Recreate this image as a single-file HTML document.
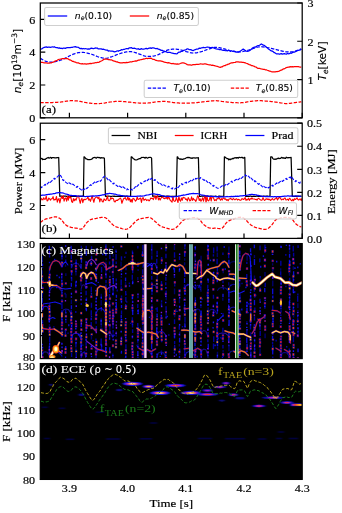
<!DOCTYPE html>
<html><head><meta charset="utf-8"><title>figure</title>
<style>html,body{margin:0;padding:0;background:#fff}svg{display:block}</style></head>
<body><svg width="342" height="513" viewBox="0 0 342 513">
<defs>
<filter id="bl" x="-5%" y="-5%" width="110%" height="110%"><feGaussianBlur stdDeviation="0.75"/></filter>
<filter id="bl2" x="-20%" y="-50%" width="140%" height="200%"><feGaussianBlur stdDeviation="1.0 0.45"/></filter>
<filter id="bl3" x="-5%" y="-5%" width="110%" height="110%"><feGaussianBlur stdDeviation="0.3"/></filter>
<clipPath id="cpa"><rect x="40.3" y="3.0" width="261.9" height="114.8"/></clipPath>
<clipPath id="cpb"><rect x="40.3" y="123.2" width="261.9" height="115.2"/></clipPath>
<clipPath id="cpc"><rect x="40.3" y="243.6" width="261.9" height="115"/></clipPath>
<clipPath id="cpd"><rect x="40.3" y="363.6" width="261.9" height="115.8"/></clipPath>
</defs>
<rect width="342" height="513" fill="#fff"/>
<g clip-path="url(#cpa)" fill="none" stroke-width="1.25" stroke-linejoin="round">
<path d="M40.3 102.6 L41.3 102.6 L42.3 102.61 L43.3 102.62 L44.3 102.62 L45.3 102.63 L46.3 102.63 L47.3 102.63 L48.3 102.62 L49.3 102.61 L50.3 102.58 L51.3 102.56 L52.3 102.52 L53.3 102.49 L54.3 102.45 L55.3 102.4 L56.3 102.35 L57.3 102.29 L58.3 102.22 L59.3 102.15 L60.3 102.06 L61.3 101.97 L62.3 101.85 L63.3 101.7 L64.3 101.54 L65.3 101.37 L66.3 101.2 L67.3 101.04 L68.3 100.9 L69.3 100.79 L70.3 100.72 L71.3 100.69 L72.3 100.68 L73.3 100.7 L74.3 100.74 L75.3 100.8 L76.3 100.87 L77.3 100.97 L78.3 101.11 L79.3 101.29 L80.3 101.48 L81.3 101.69 L82.3 101.9 L83.3 102.12 L84.3 102.31 L85.3 102.49 L86.3 102.64 L87.3 102.78 L88.3 102.92 L89.3 103.06 L90.3 103.18 L91.3 103.29 L92.3 103.39 L93.3 103.48 L94.3 103.54 L95.3 103.58 L96.3 103.6 L97.3 103.6 L98.3 103.59 L99.3 103.56 L100.3 103.5 L101.3 103.43 L102.3 103.35 L103.3 103.24 L104.3 103.1 L105.3 102.93 L106.3 102.73 L107.3 102.52 L108.3 102.32 L109.3 102.15 L110.3 102 L111.3 101.87 L112.3 101.74 L113.3 101.63 L114.3 101.54 L115.3 101.45 L116.3 101.39 L117.3 101.34 L118.3 101.31 L119.3 101.3 L120.3 101.32 L121.3 101.36 L122.3 101.43 L123.3 101.52 L124.3 101.62 L125.3 101.72 L126.3 101.83 L127.3 101.94 L128.3 102.04 L129.3 102.14 L130.3 102.23 L131.3 102.34 L132.3 102.44 L133.3 102.55 L134.3 102.66 L135.3 102.76 L136.3 102.85 L137.3 102.92 L138.3 102.99 L139.3 103.03 L140.3 103.07 L141.3 103.1 L142.3 103.12 L143.3 103.13 L144.3 103.14 L145.3 103.12 L146.3 103.1 L147.3 103.05 L148.3 102.99 L149.3 102.9 L150.3 102.78 L151.3 102.64 L152.3 102.48 L153.3 102.32 L154.3 102.15 L155.3 102 L156.3 101.86 L157.3 101.75 L158.3 101.67 L159.3 101.6 L160.3 101.54 L161.3 101.49 L162.3 101.46 L163.3 101.45 L164.3 101.45 L165.3 101.49 L166.3 101.55 L167.3 101.66 L168.3 101.79 L169.3 101.95 L170.3 102.12 L171.3 102.29 L172.3 102.44 L173.3 102.57 L174.3 102.67 L175.3 102.76 L176.3 102.85 L177.3 102.92 L178.3 102.99 L179.3 103.04 L180.3 103.09 L181.3 103.13 L182.3 103.16 L183.3 103.18 L184.3 103.2 L185.3 103.2 L186.3 103.19 L187.3 103.17 L188.3 103.14 L189.3 103.1 L190.3 103.05 L191.3 103 L192.3 102.93 L193.3 102.86 L194.3 102.79 L195.3 102.71 L196.3 102.63 L197.3 102.55 L198.3 102.45 L199.3 102.35 L200.3 102.23 L201.3 102.11 L202.3 101.99 L203.3 101.86 L204.3 101.74 L205.3 101.62 L206.3 101.5 L207.3 101.4 L208.3 101.3 L209.3 101.2 L210.3 101.09 L211.3 100.98 L212.3 100.87 L213.3 100.79 L214.3 100.72 L215.3 100.69 L216.3 100.71 L217.3 100.78 L218.3 100.88 L219.3 101.02 L220.3 101.18 L221.3 101.34 L222.3 101.5 L223.3 101.64 L224.3 101.76 L225.3 101.87 L226.3 101.98 L227.3 102.09 L228.3 102.19 L229.3 102.29 L230.3 102.38 L231.3 102.46 L232.3 102.53 L233.3 102.59 L234.3 102.63 L235.3 102.68 L236.3 102.72 L237.3 102.75 L238.3 102.77 L239.3 102.77 L240.3 102.76 L241.3 102.73 L242.3 102.68 L243.3 102.6 L244.3 102.48 L245.3 102.33 L246.3 102.14 L247.3 101.95 L248.3 101.75 L249.3 101.56 L250.3 101.4 L251.3 101.26 L252.3 101.15 L253.3 101.04 L254.3 100.94 L255.3 100.86 L256.3 100.79 L257.3 100.74 L258.3 100.71 L259.3 100.7 L260.3 100.71 L261.3 100.74 L262.3 100.79 L263.3 100.86 L264.3 100.93 L265.3 101.02 L266.3 101.11 L267.3 101.2 L268.3 101.29 L269.3 101.38 L270.3 101.48 L271.3 101.58 L272.3 101.69 L273.3 101.8 L274.3 101.92 L275.3 102.04 L276.3 102.17 L277.3 102.3 L278.3 102.44 L279.3 102.61 L280.3 102.79 L281.3 102.99 L282.3 103.18 L283.3 103.35 L284.3 103.49 L285.3 103.58 L286.3 103.61 L287.3 103.6 L288.3 103.54 L289.3 103.45 L290.3 103.32 L291.3 103.18 L292.3 103.03 L293.3 102.88 L294.3 102.73 L295.3 102.6 L296.3 102.47 L297.3 102.34 L298.3 102.2 L299.3 102.05 L300.3 101.91 L301.3 101.77" stroke="#f00" stroke-dasharray="3.4 1.5"/>
<path d="M40.3 58.3 L41.3 58.86 L42.3 59.46 L43.3 60.05 L44.3 60.59 L45.3 61.05 L46.3 61.4 L47.3 61.66 L48.3 61.86 L49.3 61.99 L50.3 62.07 L51.3 62.1 L52.3 62.08 L53.3 61.99 L54.3 61.85 L55.3 61.66 L56.3 61.44 L57.3 61.2 L58.3 60.93 L59.3 60.61 L60.3 60.26 L61.3 59.88 L62.3 59.47 L63.3 59.04 L64.3 58.61 L65.3 58.16 L66.3 57.68 L67.3 57.15 L68.3 56.6 L69.3 56.05 L70.3 55.51 L71.3 55.01 L72.3 54.56 L73.3 54.17 L74.3 53.81 L75.3 53.47 L76.3 53.16 L77.3 52.9 L78.3 52.68 L79.3 52.52 L80.3 52.43 L81.3 52.38 L82.3 52.38 L83.3 52.42 L84.3 52.5 L85.3 52.62 L86.3 52.8 L87.3 53.03 L88.3 53.28 L89.3 53.57 L90.3 53.87 L91.3 54.18 L92.3 54.5 L93.3 54.85 L94.3 55.24 L95.3 55.65 L96.3 56.07 L97.3 56.47 L98.3 56.84 L99.3 57.16 L100.3 57.43 L101.3 57.69 L102.3 57.93 L103.3 58.13 L104.3 58.26 L105.3 58.31 L106.3 58.25 L107.3 58.08 L108.3 57.81 L109.3 57.49 L110.3 57.14 L111.3 56.8 L112.3 56.47 L113.3 56.1 L114.3 55.71 L115.3 55.3 L116.3 54.9 L117.3 54.5 L118.3 54.13 L119.3 53.8 L120.3 53.49 L121.3 53.18 L122.3 52.89 L123.3 52.61 L124.3 52.37 L125.3 52.16 L126.3 51.99 L127.3 51.87 L128.3 51.78 L129.3 51.72 L130.3 51.7 L131.3 51.73 L132.3 51.83 L133.3 52 L134.3 52.26 L135.3 52.59 L136.3 52.96 L137.3 53.34 L138.3 53.7 L139.3 54.04 L140.3 54.41 L141.3 54.79 L142.3 55.17 L143.3 55.53 L144.3 55.85 L145.3 56.12 L146.3 56.3 L147.3 56.41 L148.3 56.48 L149.3 56.49 L150.3 56.46 L151.3 56.39 L152.3 56.27 L153.3 56.11 L154.3 55.91 L155.3 55.66 L156.3 55.37 L157.3 55.03 L158.3 54.64 L159.3 54.17 L160.3 53.65 L161.3 53.12 L162.3 52.6 L163.3 52.1 L164.3 51.58 L165.3 51.07 L166.3 50.59 L167.3 50.17 L168.3 49.85 L169.3 49.6 L170.3 49.42 L171.3 49.29 L172.3 49.21 L173.3 49.18 L174.3 49.17 L175.3 49.19 L176.3 49.24 L177.3 49.32 L178.3 49.44 L179.3 49.6 L180.3 49.78 L181.3 50 L182.3 50.27 L183.3 50.6 L184.3 50.97 L185.3 51.33 L186.3 51.67 L187.3 51.95 L188.3 52.21 L189.3 52.45 L190.3 52.66 L191.3 52.84 L192.3 52.96 L193.3 53.01 L194.3 53 L195.3 52.93 L196.3 52.8 L197.3 52.64 L198.3 52.44 L199.3 52.21 L200.3 51.97 L201.3 51.71 L202.3 51.4 L203.3 51.04 L204.3 50.66 L205.3 50.27 L206.3 49.88 L207.3 49.52 L208.3 49.2 L209.3 48.89 L210.3 48.57 L211.3 48.25 L212.3 47.95 L213.3 47.69 L214.3 47.48 L215.3 47.34 L216.3 47.3 L217.3 47.34 L218.3 47.47 L219.3 47.65 L220.3 47.88 L221.3 48.14 L222.3 48.41 L223.3 48.68 L224.3 48.93 L225.3 49.21 L226.3 49.52 L227.3 49.85 L228.3 50.17 L229.3 50.49 L230.3 50.77 L231.3 51.02 L232.3 51.22 L233.3 51.4 L234.3 51.56 L235.3 51.69 L236.3 51.8 L237.3 51.88 L238.3 51.91 L239.3 51.9 L240.3 51.85 L241.3 51.75 L242.3 51.6 L243.3 51.43 L244.3 51.22 L245.3 50.99 L246.3 50.74 L247.3 50.47 L248.3 50.17 L249.3 49.84 L250.3 49.48 L251.3 49.12 L252.3 48.79 L253.3 48.48 L254.3 48.16 L255.3 47.84 L256.3 47.52 L257.3 47.24 L258.3 47 L259.3 46.82 L260.3 46.71 L261.3 46.71 L262.3 46.79 L263.3 46.93 L264.3 47.1 L265.3 47.27 L266.3 47.43 L267.3 47.6 L268.3 47.78 L269.3 47.97 L270.3 48.18 L271.3 48.38 L272.3 48.6 L273.3 48.83 L274.3 49.07 L275.3 49.32 L276.3 49.58 L277.3 49.84 L278.3 50.1 L279.3 50.34 L280.3 50.57 L281.3 50.8 L282.3 51.05 L283.3 51.28 L284.3 51.5 L285.3 51.69 L286.3 51.83 L287.3 51.92 L288.3 51.98 L289.3 52 L290.3 51.98 L291.3 51.91 L292.3 51.78 L293.3 51.6 L294.3 51.37 L295.3 51.1 L296.3 50.79 L297.3 50.47 L298.3 50.09 L299.3 49.68 L300.3 49.24 L301.3 48.81" stroke="#00f" stroke-dasharray="3.4 1.5"/>
<path d="M40.3 62.06 L41.3 62.41 L42.3 62.28 L43.3 62.65 L44.3 62.76 L45.3 62.86 L46.3 62.98 L47.3 63.08 L48.3 63.09 L49.3 63.09 L50.3 62.9 L51.3 62.84 L52.3 62.31 L53.3 62.25 L54.3 61.36 L55.3 61.19 L56.3 60.59 L57.3 60.23 L58.3 59.62 L59.3 59.25 L60.3 59.19 L61.3 59.01 L62.3 58.52 L63.3 58.61 L64.3 58.68 L65.3 58.74 L66.3 58.46 L67.3 58.64 L68.3 59.03 L69.3 59.81 L70.3 59.9 L71.3 60.55 L72.3 61.27 L73.3 61.44 L74.3 61.89 L75.3 62.06 L76.3 62.57 L77.3 62.95 L78.3 62.81 L79.3 63.4 L80.3 63.72 L81.3 63.76 L82.3 63.66 L83.3 64.02 L84.3 63.75 L85.3 63.96 L86.3 64.2 L87.3 63.87 L88.3 63.81 L89.3 63.64 L90.3 63.46 L91.3 63.64 L92.3 63.25 L93.3 63.11 L94.3 63.04 L95.3 62.66 L96.3 62.75 L97.3 62.34 L98.3 62.33 L99.3 62.08 L100.3 61.38 L101.3 60.98 L102.3 60.49 L103.3 59.75 L104.3 59.12 L105.3 59.14 L106.3 59.16 L107.3 59.18 L108.3 59.56 L109.3 59.58 L110.3 59.96 L111.3 59.88 L112.3 60.24 L113.3 60.95 L114.3 61.11 L115.3 61.31 L116.3 61.95 L117.3 61.92 L118.3 62.36 L119.3 62.55 L120.3 62.79 L121.3 62.77 L122.3 62.88 L123.3 62.66 L124.3 62.56 L125.3 62.77 L126.3 62.41 L127.3 62.54 L128.3 62.26 L129.3 62.11 L130.3 61.73 L131.3 62 L132.3 61.6 L133.3 61.49 L134.3 61.23 L135.3 60.96 L136.3 61.09 L137.3 60.7 L138.3 60.16 L139.3 60.18 L140.3 59.74 L141.3 59.54 L142.3 59.45 L143.3 58.94 L144.3 59.02 L145.3 58.71 L146.3 58.24 L147.3 58.56 L148.3 58.35 L149.3 58.48 L150.3 58.15 L151.3 58.34 L152.3 59.05 L153.3 59.31 L154.3 59.4 L155.3 60.11 L156.3 60.41 L157.3 60.75 L158.3 60.87 L159.3 60.79 L160.3 60.95 L161.3 61.16 L162.3 61.37 L163.3 61.7 L164.3 62.22 L165.3 62.28 L166.3 62.5 L167.3 62.84 L168.3 62.67 L169.3 62.92 L170.3 63.24 L171.3 63.61 L172.3 63.57 L173.3 63.46 L174.3 63.99 L175.3 63.81 L176.3 64.16 L177.3 63.95 L178.3 64.09 L179.3 63.83 L180.3 63.49 L181.3 63.05 L182.3 62.88 L183.3 62.92 L184.3 63.09 L185.3 63.48 L186.3 63.97 L187.3 64.63 L188.3 64.89 L189.3 64.79 L190.3 64.86 L191.3 65.25 L192.3 64.94 L193.3 64.63 L194.3 64.53 L195.3 64.67 L196.3 64.28 L197.3 64.35 L198.3 64.42 L199.3 64.25 L200.3 63.88 L201.3 63.99 L202.3 64.07 L203.3 64.23 L204.3 63.97 L205.3 63.99 L206.3 64.13 L207.3 64.46 L208.3 64.65 L209.3 64.77 L210.3 64.78 L211.3 65.26 L212.3 65.22 L213.3 65.3 L214.3 65.6 L215.3 65.93 L216.3 66.18 L217.3 66.38 L218.3 66.72 L219.3 67.17 L220.3 67.34 L221.3 66.89 L222.3 66.76 L223.3 65.98 L224.3 65.69 L225.3 65.54 L226.3 64.79 L227.3 64.57 L228.3 64.08 L229.3 63.89 L230.3 63.22 L231.3 62.82 L232.3 62.87 L233.3 62.64 L234.3 62.5 L235.3 62.35 L236.3 61.78 L237.3 61.82 L238.3 61.98 L239.3 62.16 L240.3 62.22 L241.3 62.12 L242.3 62.44 L243.3 62.48 L244.3 62.59 L245.3 62.9 L246.3 63.26 L247.3 63.56 L248.3 64.13 L249.3 64.56 L250.3 64.77 L251.3 65.52 L252.3 65.58 L253.3 65.98 L254.3 66.4 L255.3 67 L256.3 67.17 L257.3 68.03 L258.3 68.33 L259.3 68.26 L260.3 68.63 L261.3 68.95 L262.3 69.01 L263.3 69.47 L264.3 69.35 L265.3 69.78 L266.3 69.79 L267.3 70.23 L268.3 70.59 L269.3 71.04 L270.3 71.23 L271.3 71.61 L272.3 71.95 L273.3 71.79 L274.3 71.92 L275.3 71.93 L276.3 71.53 L277.3 71.62 L278.3 71.28 L279.3 71.09 L280.3 70.39 L281.3 70.22 L282.3 69.62 L283.3 68.96 L284.3 68.78 L285.3 68.22 L286.3 67.52 L287.3 67.35 L288.3 67.22 L289.3 67.15 L290.3 66.56 L291.3 66.96 L292.3 66.6 L293.3 66.84 L294.3 66.62 L295.3 66.74 L296.3 66.65 L297.3 66.74 L298.3 66.64 L299.3 66.87 L300.3 67.03 L301.3 67.15" stroke="#f00"/>
<path d="M40.3 49.94 L41.3 48.84 L42.3 48.56 L43.3 47.8 L44.3 47.34 L45.3 47.04 L46.3 46.88 L47.3 47.3 L48.3 47.09 L49.3 47.1 L50.3 47.37 L51.3 47.21 L52.3 46.77 L53.3 47.06 L54.3 46.75 L55.3 47.35 L56.3 47.58 L57.3 47.54 L58.3 48.19 L59.3 47.82 L60.3 48.47 L61.3 48.22 L62.3 48.55 L63.3 48.17 L64.3 48.06 L65.3 48.32 L66.3 47.84 L67.3 47.62 L68.3 47.63 L69.3 47.66 L70.3 47.66 L71.3 47.28 L72.3 47.43 L73.3 47 L74.3 46.78 L75.3 46.58 L76.3 47.09 L77.3 47.24 L78.3 47.28 L79.3 48.13 L80.3 48.6 L81.3 48.37 L82.3 48.87 L83.3 48.48 L84.3 48.76 L85.3 48.69 L86.3 48.75 L87.3 49.06 L88.3 48.81 L89.3 49.12 L90.3 48.66 L91.3 48.16 L92.3 48.34 L93.3 48.73 L94.3 48.31 L95.3 47.97 L96.3 48.17 L97.3 48.03 L98.3 48.91 L99.3 48.97 L100.3 48.94 L101.3 48.95 L102.3 49.33 L103.3 49.06 L104.3 49.46 L105.3 49.95 L106.3 50.06 L107.3 50.01 L108.3 51.05 L109.3 50.76 L110.3 51.01 L111.3 51.03 L112.3 51.13 L113.3 51.35 L114.3 51.81 L115.3 51.72 L116.3 51.3 L117.3 50.8 L118.3 51.26 L119.3 50.51 L120.3 50.49 L121.3 49.68 L122.3 49.97 L123.3 49.48 L124.3 49.33 L125.3 49 L126.3 48.68 L127.3 48.61 L128.3 48.76 L129.3 47.81 L130.3 47.87 L131.3 47.58 L132.3 48.26 L133.3 48.31 L134.3 48.08 L135.3 48.46 L136.3 48.85 L137.3 49.03 L138.3 48.69 L139.3 49.36 L140.3 49.26 L141.3 48.64 L142.3 49.24 L143.3 49.06 L144.3 49.02 L145.3 48.71 L146.3 48.35 L147.3 48.89 L148.3 48.46 L149.3 48.1 L150.3 47.89 L151.3 48.36 L152.3 47.86 L153.3 47.97 L154.3 48.14 L155.3 48.52 L156.3 48.58 L157.3 48.47 L158.3 49.17 L159.3 49.42 L160.3 49.83 L161.3 50.38 L162.3 50.43 L163.3 50.84 L164.3 51.2 L165.3 51.71 L166.3 51.74 L167.3 52.5 L168.3 52.36 L169.3 52.41 L170.3 52.49 L171.3 52.87 L172.3 53.03 L173.3 53.29 L174.3 53.59 L175.3 53.66 L176.3 53.78 L177.3 53.62 L178.3 52.39 L179.3 52.12 L180.3 52.04 L181.3 51.2 L182.3 51.4 L183.3 50.33 L184.3 50.31 L185.3 49.79 L186.3 49.6 L187.3 48.77 L188.3 49.04 L189.3 49.74 L190.3 49.53 L191.3 49.82 L192.3 50.33 L193.3 50.56 L194.3 49.91 L195.3 49.63 L196.3 49.22 L197.3 49.1 L198.3 48.92 L199.3 48.1 L200.3 48.41 L201.3 47.8 L202.3 47.79 L203.3 47.35 L204.3 47.53 L205.3 47.75 L206.3 47.25 L207.3 47.02 L208.3 47.23 L209.3 47.32 L210.3 47.5 L211.3 47.67 L212.3 47.43 L213.3 47.74 L214.3 48.21 L215.3 48.65 L216.3 48.91 L217.3 49.11 L218.3 49.08 L219.3 49.7 L220.3 49.36 L221.3 49.71 L222.3 50.16 L223.3 50.44 L224.3 50.2 L225.3 50.74 L226.3 50.51 L227.3 50.87 L228.3 50.34 L229.3 50.46 L230.3 51.38 L231.3 50.71 L232.3 51.31 L233.3 51.11 L234.3 51.21 L235.3 51.54 L236.3 52.14 L237.3 51.86 L238.3 52.11 L239.3 51.71 L240.3 51.09 L241.3 50.46 L242.3 49.63 L243.3 49.15 L244.3 49.74 L245.3 50.41 L246.3 51.22 L247.3 51.26 L248.3 51.2 L249.3 50.78 L250.3 50.14 L251.3 49.3 L252.3 48.01 L253.3 47.66 L254.3 47.04 L255.3 47.15 L256.3 46.61 L257.3 45.76 L258.3 45.53 L259.3 45.29 L260.3 44.81 L261.3 43.94 L262.3 44.58 L263.3 45.24 L264.3 45.36 L265.3 46.21 L266.3 47.18 L267.3 47.69 L268.3 48.99 L269.3 49.53 L270.3 50.19 L271.3 50.9 L272.3 51.17 L273.3 51.73 L274.3 52.68 L275.3 53 L276.3 53.86 L277.3 53.86 L278.3 53.79 L279.3 54.27 L280.3 53.85 L281.3 53.63 L282.3 54.12 L283.3 53.79 L284.3 53.57 L285.3 53.92 L286.3 54.13 L287.3 53.39 L288.3 53.78 L289.3 53.63 L290.3 52.89 L291.3 53.33 L292.3 52.74 L293.3 52.14 L294.3 52.19 L295.3 51.62 L296.3 51.14 L297.3 50.68 L298.3 50.4 L299.3 50.19 L300.3 49.96 L301.3 49.04" stroke="#00f"/>
</g>
<g clip-path="url(#cpb)" fill="none" stroke-width="1.25" stroke-linejoin="round">
<path d="M40.3 157.79 L41.1 158.83 L41.9 158.37 L42.7 159.55 L43.5 159.25 L44.3 159.42 L45.1 159.43 L45.9 158.83 L46.7 158.22 L47.5 157.81 L48.3 157.49 L49.1 158.17 L49.9 157.76 L50.7 157.4 L51.5 158.26 L52.3 157.53 L53.1 157.7 L53.9 157.56 L54.7 157.95 L55.5 157.9 L56.3 157.92 L57.1 157.52 L57.9 157.54 L58.7 157.5 L59.8 196.3 L60.2 196.23 L61 196.16 L61.8 196.17 L62.6 196.49 L63.4 196.48 L64.2 196.18 L65 196.11 L65.8 196.18 L66.6 196.38 L67.4 196.41 L68.2 196.11 L69 196.33 L69.8 196.1 L70.6 196.31 L71.4 196.36 L72.2 196.49 L73 196.2 L73.8 196.42 L74.6 196.45 L75.4 196.47 L76.2 196.1 L77 196.29 L77.8 196.49 L78.6 196.26 L79.4 196.43 L80.2 196.32 L81 196.41 L81.8 196.29 L82.6 196.11 L83.4 196.13 L84 156.8 L84.4 156.8 L85.2 157.84 L86 158.98 L86.8 158.95 L87.6 159.55 L88.4 159.51 L89.2 159.65 L90 159.7 L90.8 159.5 L91.6 159.1 L92.4 158.66 L93.2 157.55 L94 157.74 L94.8 157.28 L95.6 157.87 L96.4 158.16 L97.2 157.26 L98 157.43 L98.8 157.64 L99.6 157.49 L100.4 158.15 L101.2 157.62 L102 157.97 L102.8 157.79 L103.6 157.9 L104.4 158.33 L105.4 196.3 L105.8 196.48 L106.6 196.14 L107.4 196.44 L108.2 196.24 L109 196.14 L109.8 196.25 L110.6 196.3 L111.4 196.48 L112.2 196.25 L113 196.1 L113.8 196.44 L114.6 196.14 L115.4 196.29 L116.2 196.44 L117 196.31 L117.8 196.28 L118.6 196.42 L119.4 196.11 L120.2 196.33 L121 196.26 L121.8 196.49 L122.6 196.42 L123.4 196.12 L124.2 196.18 L125 196.28 L125.8 196.38 L126.6 196.23 L127.4 196.24 L128.2 196.47 L129 196.48 L129.8 196.26 L130.6 196.46 L131.2 156.8 L131.6 156.8 L132.4 157.64 L133.2 158.46 L134 158.99 L134.8 159.64 L135.6 159.99 L136.4 159.82 L137.2 159.63 L138 159.24 L138.8 158.84 L139.6 158.59 L140.4 158.61 L141.2 157.75 L142 157.34 L142.8 157.5 L143.6 157.47 L144.4 157.64 L145.2 158.17 L146 157.27 L146.8 157.74 L147.6 158.18 L148.4 157.52 L149.2 157.28 L150 157.49 L150.8 157.3 L151.6 158.17 L152.7 196.3 L153.1 196.17 L153.9 196.18 L154.7 196.43 L155.5 196.42 L156.3 196.34 L157.1 196.47 L157.9 196.12 L158.7 196.49 L159.5 196.33 L160.3 196.22 L161.1 196.43 L161.9 196.36 L162.7 196.49 L163.5 196.14 L164.3 196.33 L165.1 196.29 L165.9 196.36 L166.7 196.2 L167.5 196.11 L168.3 196.32 L169.1 196.25 L169.9 196.46 L170.7 196.28 L171.5 196.27 L172.3 196.35 L173.1 196.31 L173.9 196.48 L174.7 196.42 L175.5 196.3 L176.3 196.18 L177.2 156.8 L177.6 156.8 L178.4 158.44 L179.2 158.73 L180 159.39 L180.8 158.83 L181.6 159.34 L182.4 159.4 L183.2 159.1 L184 158.82 L184.8 158.58 L185.6 158.32 L186.4 157.76 L187.2 157.47 L188 157.6 L188.8 157.38 L189.6 157.59 L190.4 158.02 L191.2 157.92 L192 158.4 L192.8 157.87 L193.6 157.86 L194.4 157.97 L195.2 158.07 L196 157.94 L196.8 157.91 L197.6 157.93 L198.4 157.63 L199.4 196.3 L199.8 196.41 L200.6 196.34 L201.4 196.22 L202.2 196.2 L203 196.13 L203.8 196.24 L204.6 196.11 L205.4 196.17 L206.2 196.12 L207 196.21 L207.8 196.24 L208.6 196.34 L209.4 196.41 L210.2 196.35 L211 196.16 L211.8 196.46 L212.6 196.39 L213.4 196.3 L214.2 196.36 L215 196.3 L215.8 196.17 L216.6 196.36 L217.4 196.5 L218.2 196.41 L219 196.17 L219.8 196.15 L220.6 196.47 L221.4 196.46 L222.2 196.4 L223 196.4 L223.8 196.16 L224.4 156.8 L224.8 156.8 L225.6 157.77 L226.4 158.01 L227.2 158.68 L228 158.57 L228.8 159.85 L229.6 159.09 L230.4 159.61 L231.2 159.09 L232 158.93 L232.8 158.39 L233.6 158.59 L234.4 157.76 L235.2 157.84 L236 157.62 L236.8 158.1 L237.6 157.56 L238.4 158.16 L239.2 157.3 L240 157.48 L240.8 157.73 L241.6 157.35 L242.4 157.44 L243.2 158.21 L244 157.65 L244.8 157.46 L245.6 196.3 L246 196.44 L246.8 196.33 L247.6 196.35 L248.4 196.46 L249.2 196.39 L250 196.21 L250.8 196.1 L251.6 196.32 L252.4 196.38 L253.2 196.42 L254 196.18 L254.8 196.35 L255.6 196.48 L256.4 196.2 L257.2 196.22 L258 196.27 L258.8 196.33 L259.6 196.5 L260.4 196.34 L261.2 196.46 L262 196.36 L262.8 196.29 L263.6 196.22 L264.4 196.24 L265.2 196.41 L266 196.17 L266.8 196.16 L267.6 196.19 L268.4 196.37 L269.2 196.25 L270 196.18 L270.7 156.8 L271.1 156.8 L271.9 156.8 L272.7 158.35 L273.5 159.17 L274.3 159.1 L275.1 159.37 L275.9 158.93 L276.7 159.06 L277.5 158.48 L278.3 158.06 L279.1 158.71 L279.9 158.3 L280.7 158.3 L281.5 157.4 L282.3 157.65 L283.1 158.3 L283.9 157.72 L284.7 158.31 L285.5 158.35 L286.3 157.21 L287.1 157.72 L287.9 157.9 L288.7 157.62 L289.5 157.65 L290.3 157.63 L291.1 157.48 L292.3 196.3 L292.7 196.11 L293.5 196.39 L294.3 196.5 L295.1 196.12 L295.9 196.44 L296.7 196.32 L297.5 196.11 L298.3 196.13 L299.1 196.31 L299.9 196.14 L300.7 196.22 L301.5 196.21" stroke="#000"/>
<path d="M40.3 222.4 L41.3 221.65 L42.3 220.9 L43.3 220.2 L44.3 219.64 L45.3 219.2 L46.3 218.87 L47.3 218.61 L48.3 218.38 L49.3 218.17 L50.3 217.93 L51.3 217.65 L52.3 217.37 L53.3 217.12 L54.3 216.95 L55.3 216.88 L56.3 216.95 L57.3 217.2 L58.3 217.59 L59.3 218.1 L60.3 218.75 L61.3 219.6 L62.3 220.77 L63.3 222.17 L64.3 223.52 L65.3 224.58 L66.3 225.35 L67.3 225.93 L68.3 226.37 L69.3 226.72 L70.3 227.04 L71.3 227.36 L72.3 227.62 L73.3 227.81 L74.3 227.96 L75.3 228.08 L76.3 228.17 L77.3 228.31 L78.3 228.59 L79.3 228.89 L80.3 229.08 L81.3 229.03 L82.3 228.6 L83.3 227.65 L84.3 226.18 L85.3 224.56 L86.3 223.18 L87.3 222.11 L88.3 221.2 L89.3 220.43 L90.3 219.78 L91.3 219.32 L92.3 219.03 L93.3 218.85 L94.3 218.73 L95.3 218.6 L96.3 218.42 L97.3 218.19 L98.3 217.95 L99.3 217.71 L100.3 217.52 L101.3 217.38 L102.3 217.32 L103.3 217.36 L104.3 217.49 L105.3 217.7 L106.3 218.19 L107.3 219.03 L108.3 220.05 L109.3 221.1 L110.3 222.1 L111.3 223.17 L112.3 224.22 L113.3 225.14 L114.3 225.86 L115.3 226.42 L116.3 226.86 L117.3 227.22 L118.3 227.52 L119.3 227.8 L120.3 228.11 L121.3 228.43 L122.3 228.75 L123.3 229.02 L124.3 229.21 L125.3 229.3 L126.3 229.24 L127.3 229.01 L128.3 228.57 L129.3 227.9 L130.3 226.97 L131.3 225.91 L132.3 224.82 L133.3 223.79 L134.3 222.72 L135.3 221.66 L136.3 220.72 L137.3 219.98 L138.3 219.42 L139.3 219.01 L140.3 218.72 L141.3 218.52 L142.3 218.37 L143.3 218.25 L144.3 218.11 L145.3 217.94 L146.3 217.73 L147.3 217.56 L148.3 217.47 L149.3 217.52 L150.3 217.78 L151.3 218.28 L152.3 219.02 L153.3 219.88 L154.3 220.79 L155.3 221.66 L156.3 222.57 L157.3 223.52 L158.3 224.43 L159.3 225.25 L160.3 225.91 L161.3 226.43 L162.3 226.84 L163.3 227.18 L164.3 227.47 L165.3 227.72 L166.3 227.99 L167.3 228.3 L168.3 228.61 L169.3 228.91 L170.3 229.14 L171.3 229.29 L172.3 229.31 L173.3 229.19 L174.3 228.87 L175.3 228.34 L176.3 227.55 L177.3 226.57 L178.3 225.48 L179.3 224.4 L180.3 223.32 L181.3 222.19 L182.3 221.13 L183.3 220.27 L184.3 219.64 L185.3 219.2 L186.3 218.9 L187.3 218.7 L188.3 218.55 L189.3 218.41 L190.3 218.24 L191.3 218.04 L192.3 217.83 L193.3 217.66 L194.3 217.57 L195.3 217.59 L196.3 217.77 L197.3 218.12 L198.3 218.58 L199.3 219.24 L200.3 220.29 L201.3 221.69 L202.3 223.07 L203.3 224.14 L204.3 225.07 L205.3 225.86 L206.3 226.55 L207.3 227.14 L208.3 227.63 L209.3 227.96 L210.3 228.16 L211.3 228.27 L212.3 228.3 L213.3 228.28 L214.3 228.24 L215.3 228.21 L216.3 228.21 L217.3 228.32 L218.3 228.5 L219.3 228.64 L220.3 228.66 L221.3 228.48 L222.3 227.99 L223.3 227.08 L224.3 225.72 L225.3 224.19 L226.3 222.83 L227.3 221.88 L228.3 221.21 L229.3 220.67 L230.3 220.14 L231.3 219.66 L232.3 219.25 L233.3 218.9 L234.3 218.59 L235.3 218.3 L236.3 218 L237.3 217.71 L238.3 217.47 L239.3 217.31 L240.3 217.24 L241.3 217.31 L242.3 217.53 L243.3 217.94 L244.3 218.46 L245.3 219.19 L246.3 220.25 L247.3 221.49 L248.3 222.6 L249.3 223.54 L250.3 224.39 L251.3 225.15 L252.3 225.83 L253.3 226.43 L254.3 226.91 L255.3 227.3 L256.3 227.62 L257.3 227.88 L258.3 228.11 L259.3 228.34 L260.3 228.6 L261.3 228.86 L262.3 229.11 L263.3 229.29 L264.3 229.39 L265.3 229.37 L266.3 229.2 L267.3 228.84 L268.3 228.27 L269.3 227.48 L270.3 226.54 L271.3 225.46 L272.3 224.3 L273.3 222.94 L274.3 221.49 L275.3 220.3 L276.3 219.52 L277.3 219.04 L278.3 218.73 L279.3 218.49 L280.3 218.21 L281.3 217.95 L282.3 217.73 L283.3 217.58 L284.3 217.47 L285.3 217.43 L286.3 217.45 L287.3 217.52 L288.3 217.66 L289.3 217.86 L290.3 218.04 L291.3 218.44 L292.3 219.34 L293.3 220.66 L294.3 222.09 L295.3 223.3 L296.3 224.22 L297.3 225.01 L298.3 225.68 L299.3 226.25 L300.3 226.68 L301.3 227.02" stroke="#f00" stroke-dasharray="3.4 1.5"/>
<path d="M40.3 187.05 L40.8 186.62 L41.3 187.69 L41.8 187.27 L42.3 186.84 L42.8 186.42 L43.3 185.99 L43.8 185.56 L44.3 185.13 L44.8 184.68 L45.3 184.24 L45.8 185.28 L46.3 184.81 L46.8 184.33 L47.3 183.85 L47.8 183.36 L48.3 182.86 L48.8 182.36 L49.3 181.86 L49.8 181.36 L50.3 182.36 L50.8 181.85 L51.3 181.35 L51.8 180.85 L52.3 180.34 L52.8 179.82 L53.3 179.3 L53.8 178.77 L54.3 178.25 L54.8 179.23 L55.3 178.72 L55.8 178.22 L56.3 177.74 L56.8 177.28 L57.3 176.84 L57.8 176.37 L58.3 175.85 L58.8 175.35 L59.3 176.43 L59.8 176.16 L60.3 175.39 L60.8 175.92 L61.3 176.69 L61.8 177.61 L62.3 178.62 L62.8 179.65 L63.3 180.63 L63.8 179.98 L64.3 180.66 L64.8 181.25 L65.3 181.76 L65.8 182.21 L66.3 182.6 L66.8 182.95 L67.3 183.26 L67.8 183.55 L68.3 182.33 L68.8 182.61 L69.3 182.9 L69.8 183.2 L70.3 183.54 L70.8 183.91 L71.3 184.32 L71.8 184.73 L72.3 185.14 L72.8 184.06 L73.3 184.48 L73.8 184.91 L74.3 185.33 L74.8 185.75 L75.3 186.17 L75.8 186.58 L76.3 186.99 L76.8 187.39 L77.3 186.31 L77.8 186.76 L78.3 187.21 L78.8 187.68 L79.3 188.14 L79.8 188.59 L80.3 189.02 L80.8 189.43 L81.3 189.81 L81.8 190.15 L82.3 188.94 L82.8 189.17 L83.3 189.87 L83.8 189.64 L84.3 189.35 L84.8 189 L85.3 188.6 L85.8 188.16 L86.3 187.68 L86.8 188.67 L87.3 188.15 L87.8 187.61 L88.3 187.07 L88.8 186.54 L89.3 186.01 L89.8 185.51 L90.3 185.02 L90.8 184.53 L91.3 185.51 L91.8 184.99 L92.3 184.45 L92.8 183.92 L93.3 183.4 L93.8 182.88 L94.3 182.39 L94.8 181.92 L95.3 181.48 L95.8 182.58 L96.3 182.23 L96.8 181.93 L97.3 181.68 L97.8 181.44 L98.3 181.21 L98.8 180.95 L99.3 180.66 L99.8 180.31 L100.3 181.37 L100.8 180.81 L101.3 180.16 L101.8 179.45 L102.3 178.72 L102.8 178.02 L103.3 177.37 L103.8 176.82 L104.3 176.41 L104.8 176.33 L105.3 176.61 L105.8 177.02 L106.3 177.55 L106.8 178.16 L107.3 178.8 L107.8 179.45 L108.3 180.07 L108.8 180.63 L109.3 179.67 L109.8 180.21 L110.3 180.76 L110.8 181.31 L111.3 181.86 L111.8 182.4 L112.3 182.94 L112.8 183.48 L113.3 184 L113.8 183.01 L114.3 183.51 L114.8 183.98 L115.3 184.44 L115.8 184.88 L116.3 185.3 L116.8 185.69 L117.3 186.08 L117.8 186.44 L118.3 185.3 L118.8 185.64 L119.3 185.97 L119.8 186.3 L120.3 186.62 L120.8 186.94 L121.3 187.26 L121.8 187.58 L122.3 187.91 L122.8 186.74 L123.3 187.07 L123.8 187.43 L124.3 187.81 L124.8 188.21 L125.3 188.62 L125.8 189.03 L126.3 189.44 L126.8 189.85 L127.3 188.73 L127.8 189.1 L128.3 189.44 L128.8 189.75 L129.3 190.02 L129.8 190.24 L130.3 189.92 L130.8 189.7 L131.3 189.42 L131.8 189.08 L132.3 190.17 L132.8 189.71 L133.3 189.21 L133.8 188.67 L134.3 188.1 L134.8 187.52 L135.3 186.92 L135.8 186.31 L136.3 185.71 L136.8 186.62 L137.3 186.05 L137.8 185.51 L138.3 185 L138.8 184.53 L139.3 184.07 L139.8 183.63 L140.3 183.2 L140.8 182.78 L141.3 183.86 L141.8 183.46 L142.3 183.05 L142.8 182.65 L143.3 182.26 L143.8 181.86 L144.3 181.47 L144.8 181.07 L145.3 180.68 L145.8 181.78 L146.3 181.37 L146.8 180.94 L147.3 180.48 L147.8 180 L148.3 179.52 L148.8 179.05 L149.3 178.61 L149.8 178.21 L150.3 179.37 L150.8 179.11 L151.3 178.28 L151.8 178.52 L152.3 178.83 L152.8 179.19 L153.3 179.61 L153.8 180.05 L154.3 180.52 L154.8 179.51 L155.3 179.99 L155.8 180.45 L156.3 180.9 L156.8 181.37 L157.3 181.87 L157.8 182.38 L158.3 182.9 L158.8 183.42 L159.3 182.45 L159.8 182.96 L160.3 183.47 L160.8 183.95 L161.3 184.41 L161.8 184.84 L162.3 185.25 L162.8 185.63 L163.3 185.99 L163.8 184.83 L164.3 185.16 L164.8 185.49 L165.3 185.8 L165.8 186.1 L166.3 186.41 L166.8 186.71 L167.3 187.01 L167.8 187.32 L168.3 186.15 L168.8 186.5 L169.3 186.86 L169.8 187.23 L170.3 187.61 L170.8 187.98 L171.3 188.35 L171.8 188.7 L172.3 189.03 L172.8 187.83 L173.3 188.11 L173.8 188.34 L174.3 188.99 L174.8 188.8 L175.3 188.55 L175.8 188.24 L176.3 187.86 L176.8 187.41 L177.3 188.42 L177.8 187.89 L178.3 187.33 L178.8 186.76 L179.3 186.19 L179.8 185.63 L180.3 185.09 L180.8 184.58 L181.3 184.12 L181.8 183.7 L182.3 184.8 L182.8 184.41 L183.3 184.05 L183.8 183.7 L184.3 183.36 L184.8 183.02 L185.3 182.7 L185.8 182.38 L186.3 182.06 L186.8 183.25 L187.3 182.93 L187.8 182.6 L188.3 182.27 L188.8 181.92 L189.3 181.56 L189.8 181.18 L190.3 180.78 L190.8 180.36 L191.3 181.43 L191.8 181 L192.3 180.56 L192.8 180.11 L193.3 179.68 L193.8 179.24 L194.3 178.82 L194.8 178.42 L195.3 178.03 L195.8 179.16 L196.3 178.82 L196.8 178.52 L197.3 178.24 L197.8 178 L198.3 177.8 L198.8 178.36 L199.3 178.57 L199.8 178.82 L200.3 177.59 L200.8 177.88 L201.3 178.2 L201.8 178.54 L202.3 178.9 L202.8 179.27 L203.3 179.66 L203.8 180.06 L204.3 180.47 L204.8 179.39 L205.3 179.84 L205.8 180.32 L206.3 180.82 L206.8 181.34 L207.3 181.87 L207.8 182.4 L208.3 182.93 L208.8 183.46 L209.3 182.47 L209.8 182.97 L210.3 183.45 L210.8 183.92 L211.3 184.4 L211.8 184.89 L212.3 185.39 L212.8 185.88 L213.3 186.37 L213.8 185.34 L214.3 185.8 L214.8 186.25 L215.3 186.66 L215.8 187.05 L216.3 187.4 L216.8 187.72 L217.3 187.99 L217.8 188.21 L218.3 188.31 L218.8 188.1 L219.3 187.85 L219.8 187.55 L220.3 187.23 L220.8 186.88 L221.3 186.51 L221.8 186.13 L222.3 185.74 L222.8 186.85 L223.3 186.47 L223.8 186.1 L224.3 185.73 L224.8 185.35 L225.3 184.96 L225.8 184.56 L226.3 184.15 L226.8 183.73 L227.3 184.81 L227.8 184.39 L228.3 183.97 L228.8 183.55 L229.3 183.13 L229.8 182.71 L230.3 182.3 L230.8 181.89 L231.3 181.5 L231.8 181.11 L232.3 182.24 L232.8 181.86 L233.3 181.5 L233.8 181.14 L234.3 180.78 L234.8 180.43 L235.3 180.07 L235.8 179.72 L236.3 179.37 L236.8 180.52 L237.3 180.17 L237.8 179.81 L238.3 179.45 L238.8 179.09 L239.3 178.72 L239.8 178.34 L240.3 177.91 L240.8 177.45 L241.3 178.47 L241.8 177.98 L242.3 177.48 L242.8 176.99 L243.3 176.5 L243.8 176.04 L244.3 175.61 L244.8 175.22 L245.3 174.88 L245.8 176.09 L246.3 175.87 L246.8 175.12 L247.3 175.39 L247.8 175.74 L248.3 176.18 L248.8 176.68 L249.3 177.24 L249.8 177.83 L250.3 176.95 L250.8 177.59 L251.3 178.22 L251.8 178.84 L252.3 179.44 L252.8 180 L253.3 180.53 L253.8 181.05 L254.3 181.56 L254.8 180.58 L255.3 181.08 L255.8 181.59 L256.3 182.09 L256.8 182.58 L257.3 183.07 L257.8 183.56 L258.3 184.04 L258.8 184.52 L259.3 183.51 L259.8 184.01 L260.3 184.52 L260.8 185.04 L261.3 185.55 L261.8 186.05 L262.3 186.55 L262.8 187.02 L263.3 187.46 L263.8 186.37 L264.3 186.75 L264.8 187.08 L265.3 187.37 L265.8 187.6 L266.3 187.52 L266.8 187.32 L267.3 187.08 L267.8 186.81 L268.3 188 L268.8 187.67 L269.3 187.32 L269.8 186.96 L270.3 186.58 L270.8 186.2 L271.3 185.83 L271.8 185.45 L272.3 185.09 L272.8 186.23 L273.3 185.85 L273.8 185.46 L274.3 185.06 L274.8 184.65 L275.3 184.23 L275.8 183.8 L276.3 183.37 L276.8 182.94 L277.3 184.01 L277.8 183.58 L278.3 183.15 L278.8 182.73 L279.3 182.32 L279.8 181.91 L280.3 181.51 L280.8 181.12 L281.3 180.73 L281.8 180.34 L282.3 181.45 L282.8 181.07 L283.3 180.69 L283.8 180.3 L284.3 179.92 L284.8 179.55 L285.3 179.17 L285.8 178.79 L286.3 178.42 L286.8 179.54 L287.3 179.17 L287.8 178.79 L288.3 178.36 L288.8 177.92 L289.3 177.5 L289.8 177.13 L290.3 176.86 L290.8 178.15 L291.3 176.98 L291.8 177.44 L292.3 177.99 L292.8 178.6 L293.3 179.24 L293.8 179.89 L294.3 180.52 L294.8 181.1 L295.3 181.6 L295.8 180.53 L296.3 180.94 L296.8 181.32 L297.3 181.67 L297.8 182.01 L298.3 182.34 L298.8 182.65 L299.3 182.96 L299.8 183.27 L300.3 182.08 L300.8 182.39 L301.3 182.71 L301.8 183.04" stroke="#00f" stroke-width="1.1" stroke-dasharray="3.4 1.5"/>
<path d="M40.3 202.24 L41.15 198.36 L42 199.26 L42.85 199.93 L43.7 197.78 L44.55 199.2 L45.4 199.2 L46.25 196.04 L47.1 201.03 L47.95 200.28 L48.8 198.07 L49.65 198.89 L50.5 200.11 L51.35 198.73 L52.2 198.76 L53.05 196.58 L53.9 200.2 L54.75 199.42 L55.6 199.69 L56.45 196.45 L57.3 202.17 L58.15 199.48 L59 198.5 L59.85 202.85 L60.7 199.12 L61.55 196.59 L62.4 198.47 L63.25 195.6 L64.1 201.09 L64.95 198.45 L65.8 197.86 L66.65 201.13 L67.5 196.23 L68.35 200.16 L69.2 195.6 L70.05 198.01 L70.9 197.03 L71.75 201.83 L72.6 202.38 L73.45 198.61 L74.3 200.71 L75.15 198.88 L76 200.22 L76.85 197.84 L77.7 196.12 L78.55 195.95 L79.4 199.89 L80.25 203.25 L81.1 199.68 L81.95 198.26 L82.8 202.64 L83.65 199.63 L84.5 199.38 L85.35 199.65 L86.2 198.96 L87.05 198.64 L87.9 196.62 L88.75 200.1 L89.6 199.03 L90.45 201.35 L91.3 198.54 L92.15 195.77 L93 199.02 L93.85 202.26 L94.7 198.51 L95.55 197.6 L96.4 197.05 L97.25 197.31 L98.1 198.66 L98.95 197.08 L99.8 201.9 L100.65 198.69 L101.5 199.4 L102.35 201.79 L103.2 201.91 L104.05 198.82 L104.9 199.8 L105.75 200.52 L106.6 198.85 L107.45 196 L108.3 200.38 L109.15 200.81 L110 199.95 L110.85 197.54 L111.7 198.85 L112.55 198.14 L113.4 198.66 L114.25 201.53 L115.1 201.95 L115.95 200.4 L116.8 200.19 L117.65 200.42 L118.5 199.18 L119.35 199.06 L120.2 197.99 L121.05 199.1 L121.9 203.27 L122.75 200.76 L123.6 198.58 L124.45 198.35 L125.3 197.64 L126.15 199.87 L127 199.9 L127.85 196.6 L128.7 200.08 L129.55 198.17 L130.4 201.77 L131.25 199.48 L132.1 202.29 L132.95 198.38 L133.8 198.68 L134.65 199.74 L135.5 201.1 L136.35 200.22 L137.2 196.98 L138.05 199.53 L138.9 199.24 L139.75 198.43 L140.6 198.03 L141.45 202.35 L142.3 198.5 L143.15 197.68 L144 200.35 L144.85 199.44 L145.7 199.06 L146.55 200.61 L147.4 200.08 L148.25 199.85 L149.1 200.94 L149.95 199.71 L150.8 198.09 L151.65 198.55 L152.5 198.26 L153.35 199.58 L154.2 197.26 L155.05 195.9 L155.9 199.36 L156.75 196.79 L157.6 195.69 L158.45 199.87 L159.3 197.92 L160.15 200.09 L161 198.24 L161.85 197.18 L162.7 196.96 L163.55 198.27 L164.4 198.71 L165.25 197.72 L166.1 198.69 L166.95 196.44 L167.8 199.23 L168.65 195.97 L169.5 198.85 L170.35 200.46 L171.2 201.17 L172.05 202.29 L172.9 196.4 L173.75 200.57 L174.6 201.37 L175.45 200.97 L176.3 197.53 L177.15 199.94 L178 202.55 L178.85 196.5 L179.7 200.06 L180.55 201.2 L181.4 197.95 L182.25 200.25 L183.1 197.27 L183.95 197.74 L184.8 197.73 L185.65 199.55 L186.5 199.04 L187.35 200.92 L188.2 197.51 L189.05 198.96 L189.9 200.93 L190.75 200.21 L191.6 196.82 L192.45 200.4 L193.3 198.34 L194.15 199.89 L195 199.74 L195.85 201.39 L196.7 199.41 L197.55 195.86 L198.4 196.73 L199.25 200.52 L200.1 198.74 L200.95 201.25 L201.8 199.69 L202.65 197.85 L203.5 201.15 L204.35 197.75 L205.2 195.6 L206.05 202.91 L206.9 195.76 L207.75 200.35 L208.6 200.89 L209.45 199.46 L210.3 196.17 L211.15 201.03 L212 196.61 L212.85 196.78 L213.7 198.55 L214.55 200.62 L215.4 199.74 L216.25 200.66 L217.1 198.4 L217.95 198.89 L218.8 197.15 L219.65 198.63 L220.5 200.27 L221.35 198.66 L222.2 200.06 L223.05 198.17 L223.9 198.13 L224.75 199.27 L225.6 198.85 L226.45 200.27 L227.3 199.52 L228.15 200.77 L229 199 L229.85 199 L230.7 198.26 L231.55 199.22 L232.4 199.81 L233.25 198.53 L234.1 199.16 L234.95 199.85 L235.8 199.09 L236.65 198.73 L237.5 200.08 L238.35 199.29 L239.2 199.56 L240.05 200.25 L240.9 200.23 L241.75 198.89 L242.6 198.73 L243.45 199.46 L244.3 199.08 L245.15 197.49 L246 200.35 L246.85 199.22 L247.7 199.86 L248.55 198.14 L249.4 200.36 L250.25 198.67 L251.1 199.1 L251.95 197.94 L252.8 199.05 L253.65 198.99 L254.5 199.03 L255.35 199.59 L256.2 199.25 L257.05 200.08 L257.9 198.78 L258.75 198.3 L259.6 199.18 L260.45 199.77 L261.3 200.32 L262.15 199.93 L263 197.61 L263.85 199.54 L264.7 200.51 L265.55 199.26 L266.4 198.74 L267.25 199.48 L268.1 198.75 L268.95 199.78 L269.8 199.19 L270.65 200.45 L271.5 199.65 L272.35 198.55 L273.2 199.74 L274.05 200.04 L274.9 198.69 L275.75 198.82 L276.6 197.4 L277.45 200.01 L278.3 198.67 L279.15 197.4 L280 197.61 L280.85 199 L281.7 199.88 L282.55 199.12 L283.4 199.62 L284.25 198.21 L285.1 197.99 L285.95 200 L286.8 199.64 L287.65 199.17 L288.5 200.35 L289.35 198.34 L290.2 198.82 L291.05 200.12 L291.9 200.85 L292.75 199.21 L293.6 200.71 L294.45 198.66 L295.3 199.5 L296.15 199.04 L297 197.77 L297.85 199.43 L298.7 200.04 L299.55 199.07 L300.4 199.14 L301.25 200.45 L302.1 198.08" stroke="#f00" stroke-width="1.1"/>
<path d="M40.3 195.42 L41.3 195.38 L42.3 195.11 L43.3 195.09 L44.3 195.14 L45.3 195.04 L46.3 194.62 L47.3 194.55 L48.3 194.37 L49.3 194.41 L50.3 194.12 L51.3 194.12 L52.3 194 L53.3 193.64 L54.3 193.58 L55.3 193.33 L56.3 192.91 L57.3 192.97 L58.3 192.72 L59.3 192.71 L60.3 192.66 L61.3 192.89 L62.3 192.94 L63.3 193.05 L64.3 193.49 L65.3 193.89 L66.3 194.02 L67.3 194.29 L68.3 194.62 L69.3 195.06 L70.3 195.26 L71.3 195.31 L72.3 195.56 L73.3 195.68 L74.3 195.63 L75.3 195.63 L76.3 195.96 L77.3 196.01 L78.3 196.01 L79.3 196.03 L80.3 196.16 L81.3 196.24 L82.3 196.2 L83.3 196.25 L84.3 196.34 L85.3 196.52 L86.3 196.42 L87.3 196.29 L88.3 196.27 L89.3 196.32 L90.3 196.18 L91.3 196.13 L92.3 196.2 L93.3 195.96 L94.3 196.04 L95.3 195.9 L96.3 195.94 L97.3 195.85 L98.3 195.71 L99.3 195.58 L100.3 195.31 L101.3 195.27 L102.3 194.97 L103.3 194.89 L104.3 194.58 L105.3 194.36 L106.3 193.91 L107.3 193.71 L108.3 193.77 L109.3 193.32 L110.3 193.46 L111.3 193.51 L112.3 193.7 L113.3 193.82 L114.3 194.14 L115.3 194.22 L116.3 194.52 L117.3 194.85 L118.3 195.08 L119.3 195.24 L120.3 195.39 L121.3 195.69 L122.3 195.66 L123.3 196.06 L124.3 196.04 L125.3 196.06 L126.3 196.2 L127.3 196.08 L128.3 196.39 L129.3 196.39 L130.3 196.38 L131.3 196.3 L132.3 196.46 L133.3 196.43 L134.3 196.39 L135.3 196.48 L136.3 196.34 L137.3 196.2 L138.3 196.23 L139.3 196.03 L140.3 195.97 L141.3 196.1 L142.3 196.03 L143.3 195.99 L144.3 195.78 L145.3 195.47 L146.3 195.07 L147.3 195 L148.3 194.94 L149.3 194.67 L150.3 194.35 L151.3 194.17 L152.3 193.96 L153.3 193.88 L154.3 193.84 L155.3 194.24 L156.3 194.27 L157.3 194.26 L158.3 194.6 L159.3 194.7 L160.3 195.03 L161.3 195.51 L162.3 195.73 L163.3 195.9 L164.3 196.02 L165.3 196.33 L166.3 196.56 L167.3 196.45 L168.3 196.39 L169.3 196.45 L170.3 196.52 L171.3 196.9 L172.3 196.74 L173.3 196.84 L174.3 196.53 L175.3 196.48 L176.3 196.53 L177.3 196.46 L178.3 196.07 L179.3 195.76 L180.3 195.88 L181.3 195.45 L182.3 195.42 L183.3 194.99 L184.3 195.03 L185.3 194.92 L186.3 194.71 L187.3 194.37 L188.3 194.32 L189.3 193.88 L190.3 193.76 L191.3 193.64 L192.3 193.69 L193.3 193.3 L194.3 193.55 L195.3 193.54 L196.3 193.7 L197.3 193.61 L198.3 193.75 L199.3 194.01 L200.3 194.51 L201.3 194.85 L202.3 195.03 L203.3 195.23 L204.3 195.4 L205.3 195.84 L206.3 196.03 L207.3 195.86 L208.3 196.03 L209.3 196.37 L210.3 196.47 L211.3 196.33 L212.3 196.38 L213.3 196.49 L214.3 196.57 L215.3 196.43 L216.3 196.76 L217.3 196.66 L218.3 196.78 L219.3 196.58 L220.3 196.89 L221.3 196.82 L222.3 196.66 L223.3 196.91 L224.3 196.8 L225.3 196.85 L226.3 196.51 L227.3 196.49 L228.3 196.74 L229.3 196.53 L230.3 196.58 L231.3 196.39 L232.3 196.68 L233.3 196.44 L234.3 196.53 L235.3 196.19 L236.3 196.3 L237.3 196.09 L238.3 196.36 L239.3 196.13 L240.3 195.91 L241.3 195.83 L242.3 195.92 L243.3 195.63 L244.3 195.55 L245.3 195.5 L246.3 195.36 L247.3 195.21 L248.3 195 L249.3 194.68 L250.3 194.61 L251.3 194.35 L252.3 194.4 L253.3 194.68 L254.3 194.56 L255.3 194.76 L256.3 194.97 L257.3 195.29 L258.3 195.34 L259.3 195.57 L260.3 195.95 L261.3 196.01 L262.3 196.34 L263.3 196.48 L264.3 196.46 L265.3 196.58 L266.3 196.51 L267.3 196.42 L268.3 196.62 L269.3 196.63 L270.3 196.75 L271.3 196.58 L272.3 196.63 L273.3 196.87 L274.3 196.65 L275.3 196.7 L276.3 196.9 L277.3 196.62 L278.3 196.55 L279.3 196.74 L280.3 196.63 L281.3 196.59 L282.3 196.29 L283.3 196.36 L284.3 196.12 L285.3 196.14 L286.3 196.25 L287.3 195.93 L288.3 195.97 L289.3 196.21 L290.3 196.18 L291.3 195.98 L292.3 196.09 L293.3 196.07 L294.3 196.02 L295.3 196.21 L296.3 195.97 L297.3 196.27 L298.3 196 L299.3 196.37 L300.3 196.33 L301.3 196.26" stroke="#00f"/>
</g>
<rect x="40.3" y="243.6" width="261.9" height="115" fill="#000"/>
<g clip-path="url(#cpc)">
<g filter="url(#bl)" fill="none" stroke-width="2.4">
<path d="M42.15 274.93v2.89M42.5 280.18v2.86M42.51 287.35v2.51M42.29 290.44v3.17M42.5 304v3.13M42.4 323.69v2.88M42.5 329.78v2.94M42.16 349.13v2.54M42.49 355.72v2.76M49.71 273.49v2.65M49.36 275.93v3.02M49.38 305v2.51M49.31 307.24v3.07M49.59 310.47v2.95M49.63 314.29v3.17M49.3 317.77v2.95M49.73 326.62v3.14M49.51 330.01v3.01M49.67 333.23v2.88M62.11 261.49v2.55M61.86 264.87v2.43M62.14 282.37v3.05M61.98 294.14v3.02M62.01 300.09v2.63M62.1 312.51v2.65M62.09 321.27v2.85M61.93 324.12v2.42M61.92 327.49v2.92M62.1 331.11v2.47M61.97 333.3v2.91M65.8 282.18v2.51M65.9 314.81v2.89M65.74 328.35v2.56M65.52 334.25v2.77M65.57 347.53v3.06M65.49 351v3.06M71.51 249.55v3.1M71.3 259.83v2.76M71.61 269.98v2.87M71.26 311.91v3.03M71.51 315.36v2.8M71.16 318.56v3.1M71.55 321.95v2.75M71.31 327.46v2.52M71.19 330.45v2.82M71.5 334.01v2.54M71.33 337.31v3.03M71.53 340.25v3.18M71.3 346.86v3.11M71.53 350.16v2.46M75.93 264.69v2.96M76.04 267.34v2.72M76 290.16v3.13M75.95 298.92v2.59M76.01 322.73v2.6M76.1 325.11v2.45M76 330.89v3.1M76.13 337.37v2.97M76.22 350.12v2.55M81.15 257.19v2.74M81.29 272.49v2.96M81.44 276.38v2.66M81.06 278.85v2.91M81.27 311.73v2.79M81.31 318.81v3.19M81.38 328.21v2.79M81.38 334.63v2.48M81.37 337.88v2.49M81.05 340.83v3.12M81.26 347.74v2.41M81.42 353.6v2.77M86.33 263.55v2.44M86.13 266.24v3.08M86.42 276.83v2.41M86.51 285.73v2.46M86.35 317.9v2.88M86.45 323.53v2.47M86.39 326.2v3.09M86.37 335.64v2.9M86.09 352.36v2.49M91.33 262.13v2.61M91.21 276.89v3.12M91.36 295.3v2.8M91.49 326.91v2.42M91.64 333.26v2.4M91.54 347.34v2.52M96.44 252.68v3.11M96.09 258.26v2.87M96.08 267.31v2.7M96.07 275.84v2.75M96.33 313.72v2.65M95.98 317.35v2.9M95.96 328.25v2.79M96.41 340.38v3.15M96.34 343.54v3.16M95.97 346.77v2.62M96.07 350.2v2.83M95.98 352.91v2.86M101.46 276.2v3.13M101.45 328.3v2.54M106.02 247.71v2.94M105.82 265.66v2.45M106.23 267.99v2.42M106.17 288.14v2.55M105.94 291.27v3.18M105.94 295.06v2.79M105.94 298.19v2.44M105.79 307.03v2.59M106.17 310.43v2.43M105.78 313.33v3M105.76 317.08v2.52M106.17 320.42v2.7M105.89 323.57v3.13M105.83 326.57v2.49M106.03 328.9v2.83M106.04 334.62v2.67M106.13 343.63v2.43M106.12 350.52v3.01M106.2 354.34v2.69M109.53 266.43v2.72M109.82 278.63v2.51M109.75 280.82v2.94M109.92 297.26v2.91M109.52 304.16v3.04M109.82 310.67v2.84M109.81 314.18v2.67M109.86 317.1v2.49M109.75 323.76v2.88M109.64 330.95v3.18M109.9 350.9v2.49M112.93 258.69v2.52M112.93 264.24v3.07M112.76 270.63v2.71M112.9 302.27v2.81M112.92 309.17v2.46M113.02 311.54v2.45M113.09 314.15v2.85M112.78 317.07v2.79M112.99 319.88v2.64M112.94 344.2v3.13M115.98 265.44v2.67M116.21 307.84v3.12M116.09 310.93v2.83M115.99 339.03v3.14M116.01 342.58v2.46M115.98 345.64v2.82M121.35 245.18v2.5M121.46 288.34v2.77M121.08 297.89v2.73M121.45 320.63v2.56M121.17 324.01v2.52M121.17 340.04v2.49M121.19 342.27v3.02M125.77 284.78v2.67M125.97 305.08v2.42M125.71 307.13v2.53M125.95 320.82v2.79M125.64 323.59v2.87M125.84 326.77v2.95M125.78 330.37v3.2M125.6 333.88v2.54M126.05 339.21v2.76M125.8 348.8v3.02M125.77 351.68v2.85M132.5 260.52v2.8M132.54 266.49v2.61M132.62 294.02v2.49M132.45 306.56v2.67M132.41 320.15v2.87M132.5 341.72v2.46M132.34 344.75v2.94M132.26 347.72v2.55M132.61 350.6v3.01M132.64 353.31v2.51M132.66 356.14v2.82M138.12 262.58v2.91M138.01 329.26v2.83M137.93 332.12v2.58M137.88 335.12v2.94M137.94 357.57v2.64M142.61 253.84v2.68M142.71 274.9v2.64M142.86 278.14v2.91M142.89 281.2v2.94M143.01 297.39v2.57M142.7 303.52v3.14M142.92 310.83v3.18M142.64 314.95v2.98M142.59 317.89v2.86M143.04 321.31v3.05M142.58 330.65v2.67M142.59 342.02v2.73M142.61 345.25v3.16M142.86 348.88v2.69M142.59 352.45v3.16M151.71 267.38v2.98M151.9 282.87v3.05M151.79 296.72v2.99M151.89 306.09v2.74M152 309.29v2.8M151.83 314.55v2.64M151.86 317.79v2.67M151.78 320.21v2.65M151.86 325.81v2.59M152.04 333.08v3.08M151.6 337.08v2.91M152.05 355.2v3.19M156.86 278.93v3.04M156.94 282.72v2.42M156.93 285.92v3.09M156.96 289.68v2.93M157.23 299.23v2.55M157 317.8v2.7M156.98 323.67v2.7M156.88 333.74v2.87M156.85 340.26v2.81M157.02 343.2v2.87M161.74 258.79v3.07M161.62 283.86v2.74M161.58 287.4v3.15M161.5 316.85v2.59M161.51 320.11v3.19M161.54 322.9v2.91M161.54 331.34v3.11M161.57 334.8v3.03M161.72 338.39v2.86M166.19 246.07v2.72M165.86 292.59v2.71M165.76 338.13v2.53M166.04 341.47v2.68M165.76 351.12v2.53M166.04 356.4v2.78M174.76 259.17v2.69M174.81 281.02v2.8M174.57 298.38v2.56M174.81 300.56v3M174.74 309.71v2.94M174.44 312.46v2.73M174.62 326.72v2.63M174.49 329.75v2.51M174.78 332.79v2.54M174.77 347.86v2.91M179.36 264.21v2.97M179.55 289.36v3.2M179.33 293.55v2.76M179.73 308.77v2.46M179.6 314.91v2.51M179.39 317.52v2.96M179.42 350.4v2.7M185 250.74v2.55M184.58 287.03v2.59M184.95 289.35v2.84M184.63 298.4v2.5M184.65 307.26v2.56M184.83 313.03v3.14M184.89 342.63v2.4M184.85 356.74v2.88M195.4 263.21v2.76M195.06 266.21v2.96M195.26 302.5v2.68M195.28 308.7v2.73M195.38 312.27v3.18M195.11 318.47v2.94M195.06 321.84v2.48M195.22 327.6v2.41M195.33 330.77v2.42M195.35 332.92v2.79M195.2 336.41v2.64M195.27 339.48v2.76M195.38 349.61v3.13M195.14 353.7v2.67M195.2 356.86v2.95M200.82 260.59v3.03M201.02 263.79v3.11M201.08 280.51v2.92M200.8 296.66v2.89M200.97 315.11v3.01M200.75 317.83v3.05M200.79 320.91v2.77M201.2 323.28v3.11M201.01 326.82v2.99M200.89 330.79v3.18M200.79 336.84v2.77M201.13 352.85v2.94M208.08 248.29v3.02M207.91 254.6v2.46M208.14 256.71v3.13M207.81 291.57v2.62M207.98 296.53v2.68M207.94 299.99v2.6M207.77 309.98v2.54M207.76 313.05v2.8M208.17 316.5v3.07M207.91 321.84v2.51M208.17 334.7v2.78M208.13 357.54v2.76M213.74 258.87v2.52M213.45 279.15v2.67M213.31 281.52v2.64M213.33 287.89v2.96M213.28 314.07v2.65M213.63 330.5v2.85M217.51 272v2.69M217.46 296.44v2.59M217.08 305.36v2.97M217.29 322.31v2.93M217.15 325.44v2.94M217.22 331.76v2.76M217.1 334.5v3.16M217.32 340.72v2.9M222.88 268.3v2.78M223.21 318.91v2.97M223 334.1v2.61M222.86 336.84v3.18M223.17 353.02v3.06M228.73 252.42v2.53M229.09 269.91v2.6M228.7 287.43v3.14M228.81 308.1v2.58M228.76 314.46v2.88M228.87 335.33v2.77M228.66 352.97v3.19M229.01 355.87v3.14M239.81 244.84v2.76M239.99 261.62v3.06M239.97 264.6v3.07M239.67 268.44v2.48M239.99 299.84v2.8M239.92 314.84v2.45M239.86 317.45v2.49M239.98 320.74v2.69M240.02 327.28v2.45M239.86 340.16v2.57M239.86 342.53v2.74M239.78 348.21v2.85M239.66 351.84v2.56M239.67 357.13v2.44M247.01 267.13v2.93M246.66 279.8v3.08M246.96 283.53v3.12M246.75 310.65v2.78M247.13 346.76v3.08M250.52 298.56v3.06M250.79 302.27v2.69M250.65 305.28v2.49M250.72 308.12v3.16M250.61 319.51v2.89M250.6 337.86v3.19M250.83 341.96v2.88M250.59 344.84v2.7M250.73 347.42v2.54M250.82 357.32v2.74M254.85 278.41v2.78M254.8 287.06v2.95M254.74 293.59v3.15M254.55 310.12v2.95M254.4 326.31v2.51M254.43 328.73v2.48M254.85 334.31v2.74M254.51 351.24v2.84M254.5 354.97v2.78M260.24 288.79v3.1M259.9 318.27v2.62M259.91 320.67v3.06M259.88 338.08v2.77M260.08 340.97v3.14M259.84 344.56v3.08M260.16 353.34v2.76M265.22 248.92v3.07M264.92 258.43v3.2M264.8 264.49v3.19M264.97 296.89v2.45M264.94 301.86v2.68M264.79 314.08v2.75M265.19 325.23v2.8M265.19 328.18v2.8M272.59 249.9v3.14M272.66 259.58v2.44M272.95 267.02v2.44M272.67 299.74v2.51M272.56 311.88v3.03M273.04 314.67v2.84M272.68 322.55v2.45M272.76 324.93v2.69M272.97 338.32v2.42M272.69 347.31v3.12M281.1 285.67v2.82M280.84 288.8v2.71M280.84 291.78v2.92M280.94 298.13v2.9M280.66 301.77v2.54M281.01 319.38v2.59M280.71 325.34v2.7M281.03 335.28v2.5M280.71 337.92v2.43M280.89 340.51v3.12M280.76 343.93v3.06M280.95 347.09v2.63M280.75 349.83v2.9M280.93 353.49v2.62M280.91 356.09v2.94M289.57 263.33v3.19M289.34 267.34v2.42M289.32 270.09v2.59M289.43 280.72v2.41M289.45 283.33v2.97M289.61 286.85v2.88M289.63 293.04v2.63M289.36 305.81v2.81M289.62 325.04v3.07M289.65 327.8v2.95M289.55 331.43v2.73M289.37 334.55v3.15M289.53 337.54v3.16M289.73 349.95v2.63M289.7 355.61v2.43M289.5 357.9v2.59M293.22 257.7v3.02M293.58 261.39v3.12M293.39 274.82v3.02M293.4 302.47v3.05M293.56 309.59v3.05M293.22 312.82v2.65M293.5 319.72v3.07M293.23 322.81v3.13M293.38 326.45v3.04M293.49 333.29v3.14M293.62 343.75v2.67M293.58 346.3v2.51M293.39 352.93v3.1M293.56 356.73v3.11M297.95 271.74v2.44M297.79 320.02v2.51M297.75 334.12v3.08M297.9 356.9v2.94" stroke="#1414f5" stroke-opacity="0.6"/>
</g>
<g filter="url(#bl)" fill="none" stroke-width="1.4">
<path d="M42.31 250.57v4.03M42.31 270.15v4.46M42.28 275.13v2.76M42.36 312.01v5.92M42.08 325.03v2.47M42.26 334.23v2.52M49.26 266.24v2.8M49.47 324.12v5.42M49.65 331.1v5.07M61.82 245.9v3.62M61.78 277.68v2.78M61.95 289.45v4.55M61.87 355.04v2.21M65.77 255.3v2.24M65.56 264.59v2.15M65.83 273.37v2.74M65.92 293.91v3.93M71.63 260.62v2.15M71.37 299.53v4.37M75.98 272.85v2.66M75.84 289.47v3.45M76.22 299.34v3.07M81.22 250.7v2.48M80.98 282.3v3.46M81.19 288.04v3.24M81.01 320.03v2.7M86.5 302.81v4.36M86.25 348.16v2.84M91.42 334.37v5.14M96.09 297.7v3.82M96.08 350.78v2.06M101.29 293.82v3.83M101.18 300.05v5.55M101.25 323.59v3.89M106.17 257.97v2.19M105.93 261.7v4.33M105.8 268.5v4.4M105.87 333.27v5.67M106.03 353.71v3.56M109.61 270.56v2M109.47 312.73v5.87M109.77 326.82v5.42M109.48 332.7v2.92M113.15 254.09v2.77M113.15 267.08v5.47M112.96 273.14v4.23M112.83 303.75v2.37M112.83 353.45v5.75M116 282.6v5.97M116.32 331.35v5.28M116.32 338.79v5.35M121.05 261.52v5.08M121.36 275.67v2.25M121.27 324.08v2.39M125.59 282.11v3.11M125.85 326.32v3.54M125.81 349.86v5.88M132.51 300.21v2.74M138.13 268.88v2.17M137.78 277.09v3.16M138.06 343.61v5.18M142.94 262.24v5.66M143.01 278.03v5.04M143.01 314.04v3.16M142.9 326.07v4.42M151.86 249.7v5.09M151.67 285.22v2.79M151.72 297.27v5.44M151.99 304.01v2.03M151.82 322.15v4.54M156.92 265.26v2.13M157.22 268.78v2.87M157.19 274.13v5.65M161.56 327.02v5.66M161.48 350.32v4.56M166.19 294.62v5.68M174.44 244.68v5.32M174.54 288.55v5.74M174.67 311.18v5.96M174.51 358.03v4.9M179.51 293.2v3M179.46 297.94v5.42M179.75 331.57v4.63M179.36 344.02v2.45M179.53 351.7v3.66M184.69 258.13v2.6M184.58 262.28v3.03M185.04 267.62v3.75M184.67 296.66v3.05M195.19 258.25v2.34M195.02 267.29v2.52M201.04 255.81v3.99M200.97 286.21v5.65M200.85 304.13v3.87M201.22 326.12v2.39M201.2 339.29v3.87M201.14 354.34v3.02M208.18 307.2v4.36M217.36 252.46v4.5M217.52 346.99v2.55M217.48 351.79v2.57M223.21 268.47v4.78M222.78 297.94v2.87M223.1 350.1v2.44M228.93 246.44v5.44M228.7 282.37v3.07M229 287.56v3.38M228.96 345.63v5.51M239.7 331.76v5.23M239.97 353.59v2.2M247.11 255.35v5.32M246.87 320.98v2.37M250.54 271v3.18M250.47 281.52v5.93M250.65 331.89v4M250.68 340.33v5.97M254.47 255.04v2.88M254.44 275.52v3.23M254.38 279.28v3.38M260.12 279.55v2.55M260.19 337.34v2.44M260.01 343.41v2.89M260.07 348.58v5.69M264.98 272.1v4.04M265.09 333.42v4.89M272.65 263.17v2.28M272.77 267.84v3.68M272.76 280.38v5.83M272.89 331.04v3.48M280.67 268.15v2.49M280.95 302.43v5.48M281 340.1v4.42M289.63 250.2v3.23M289.44 270.8v4.88M289.69 289.19v5.08M289.69 310.88v5.54M289.64 316.84v5.65M293.27 266.34v3.41M293.62 312.28v5.31M297.86 303.32v4.61M297.92 309.91v2.58M298.14 328.85v5.63" stroke="#00006c"/>
<path d="M42.1 256.33v5.17M42.3 279.22v5.37M42.19 292.38v4.83M42.51 305.23v5.39M42.53 319.96v3.08M42.15 329.58v2.71M42.2 355.4v3.03M49.56 255.21v2.19M49.42 270.43v4.86M49.61 302.9v3.85M49.7 308.87v4.57M49.64 336.71v5.2M61.98 253.83v5.78M61.85 272.71v4.46M61.96 298.91v3.89M61.95 303.32v5.78M61.79 310.27v3.14M61.67 315.32v3.18M62.14 331.26v5.62M65.6 250.19v2.67M65.74 259.57v2.72M65.64 309.82v2.95M65.88 320.43v2.63M65.45 330.05v4.14M71.43 250.16v3.87M71.32 254.8v4.08M71.49 264.43v3.88M71.6 277.51v3.64M71.18 309.85v3.23M71.6 323.35v2.89M71.63 326.84v5.17M71.18 332.41v2.98M71.44 337.67v5.26M71.61 353.04v3.89M75.78 249.72v2.16M76.17 259.42v5.55M75.84 266.17v5.13M75.79 282.17v5.45M75.79 310.94v2.08M75.77 320.07v2.22M75.96 323v4.38M75.95 338.03v2.82M75.92 342.06v5.46M76.03 348.38v2.16M76.21 352.64v5.9M81.32 245.74v2.47M80.96 272.77v3.95M81.06 278.31v2.57M81.26 302.88v2.23M81.21 323.29v3.44M81.13 354.82v4.31M86.25 245.67v4.95M86.19 262.36v4.81M86.08 279.41v4.97M86.12 290.65v4.69M86.46 297.62v3.01M86.28 318.38v4.53M86.16 341.83v3.85M86.36 352.95v2.33M91.57 246.37v2.84M91.61 255.83v3.73M91.45 271.2v3.39M91.27 286.65v5.92M91.43 302.83v4.87M91.27 310.14v5.64M91.23 322.04v4.27M95.98 273.73v2.06M95.97 303.88v2.29M96.22 307.21v2.73M96.1 321.22v2.64M96.37 325.93v5.89M95.98 338.41v2.1M95.96 341.25v2.69M96.18 344.8v5.2M96.11 354.54v3.48M101.55 266.95v5.61M101.34 307.46v3.75M101.11 318.61v4.46M101.16 338.49v5.93M101.49 346.64v4.04M101.21 358.13v3.46M105.86 250.57v5.49M106.08 273.34v4.79M106.03 279.99v3.29M105.88 284.43v3.44M105.81 288.3v3.24M106.19 293.72v3.88M106.01 305.34v3.56M105.76 310.42v5.15M106.19 326.97v3.82M106.18 341.38v4.17M109.59 248.32v5.12M109.88 254.52v4.43M109.54 261.42v3.05M109.81 280.05v4.86M109.65 287.11v5.74M109.53 293.91v4.97M109.53 300.92v5.87M109.74 307.26v3.66M112.91 258.52v2.06M113.11 291.37v4.12M113.03 308.53v3.24M112.96 323.43v5.08M113.09 330v2.81M113.04 333.43v2.55M116 249.55v2.13M116.09 253.94v5.74M116.19 261.49v2.44M116.25 278.49v2.98M116.11 309.91v3.09M121.49 256.28v4.1M121.16 279.62v5.82M121.23 286.16v2.11M121.49 295.44v2.41M121.47 298.36v4.81M121.51 310.41v4.16M121.36 318.87v3.42M121.52 336.5v4.22M121.19 342.58v2.89M125.97 251.85v2.11M125.99 267.42v2.94M125.7 291.07v4.5M125.84 296.94v4.75M125.82 337.55v4.97M125.9 344.32v4.24M132.45 250.45v3.27M132.32 255.74v2.03M132.55 259.71v3.01M132.72 269.38v3.97M132.31 274.76v4.96M132.57 304.6v3.84M132.37 317.21v5.09M132.52 322.92v4.64M132.6 329.23v3.72M132.46 335.21v3.28M132.66 353.58v3.79M137.83 246.08v2.42M137.97 263.14v3.91M137.95 295.71v2.42M137.78 304.11v3.96M138.25 308.98v4.86M137.76 322.89v3.55M138.18 327.83v3.09M138.21 332.38v4.77M137.84 338.84v3.96M137.84 357.01v3.84M142.87 244.96v5.87M142.64 269.37v5.13M143.03 275.2v2.33M142.72 283.93v4.38M142.96 289v4.78M142.58 298.85v3.83M142.84 303.38v4.03M143.03 318.07v3.64M142.7 332.71v5.22M142.67 339.6v4.46M142.59 344.96v2.34M142.58 355.79v3.53M151.81 243.62v5.55M151.78 255.45v4.12M151.75 275.96v3.89M151.7 281.77v2.34M151.97 292.37v2.75M152.01 351.11v4.16M151.72 357.42v3.58M157.1 250.84v3.1M156.76 258.8v4.97M157.21 307.16v4.81M157.15 335.73v3.22M156.95 340.71v5.64M161.67 256.91v3.16M161.5 281.01v4.98M161.57 300.15v2.38M161.53 303.28v3.19M161.35 315.25v3.56M161.64 338.05v4.15M165.9 246.25v5.08M165.96 253.78v4.56M165.89 276.72v4.14M165.76 282.2v3.05M166.11 290.49v3.09M166.07 306.36v4.03M166.19 312.57v3.02M165.94 334.75v4.07M174.53 252.37v5.48M174.48 274.6v3.43M174.74 284.34v2.19M174.5 298.6v4.15M174.52 319.15v4.9M174.62 341.01v3.27M174.61 346.45v5.39M179.56 256.2v3.8M179.38 269.28v2.65M179.51 308.98v2.42M179.29 325.63v4.09M179.73 348.51v2.44M184.83 247.19v2.03M184.79 271.8v5.14M184.6 284.13v3.1M184.69 291.78v2.79M184.68 302.05v3.92M184.56 307.11v4.04M185.01 312.36v2.46M184.97 317.06v5.57M184.76 340.32v5.7M184.71 348.31v5.42M184.89 355.52v4.66M195.3 246v4.19M194.95 252.34v5.26M195.19 262.58v3.76M195.34 297.19v2.93M195.04 301.35v2.34M195.01 305.57v2.52M195.04 317.39v5.09M195.21 336.43v5.4M195.23 347.28v2.41M195.19 355.44v5.47M200.83 261.65v3.39M201.15 265.98v5.77M200.91 273.9v5.02M201.18 279.46v5.7M201.11 316.83v4.41M200.9 322.08v3.41M200.88 348.87v3.93M207.79 244.39v3.69M208.23 278.92v4.2M207.77 284.87v3.98M207.86 290.24v2.85M208.02 327.51v3.06M208.09 331.95v5.12M207.88 339.34v3.02M208.17 351.02v3.4M213.63 247.57v5.72M213.42 254.29v2.32M213.42 258.99v2.62M213.3 272.21v3.45M213.47 294.66v4.01M213.42 304.57v3.24M213.52 309.01v5.84M213.74 336.33v5.67M213.49 343.5v5.5M217.14 246.39v5.18M217.11 258.66v5.63M217.39 266.61v5.22M217.08 273.54v3.93M217.24 301.52v3.72M217.41 306.61v3.47M217.32 311.21v2.52M217.15 323.29v5.76M217.14 330.12v3.46M217.51 340.77v5.64M217.37 355.44v4.28M222.92 252.43v2.59M223.05 260.54v3.63M222.98 280.61v2.6M223.09 313.36v3.73M222.88 327.77v4.39M223.07 334.47v5.21M222.95 344.91v3.71M223.22 353.02v3.94M228.68 252.43v5.78M228.88 273.01v3.39M229.11 277.31v2.6M229.1 310.96v2.85M229 314.65v3.56M239.61 277.41v4.57M239.63 282.52v4.13M240 294.37v4.46M239.63 299.38v3.51M239.56 316.56v2.99M239.57 321.09v2.5M239.65 337.83v5.53M239.73 358.19v4.37M246.84 261.7v2.32M246.78 274.11v4.36M246.67 280.57v5.59M246.98 301.77v5.48M246.86 330.43v5.17M250.87 252.53v2.75M250.58 261.18v3.97M250.59 275.28v4.65M250.67 296.45v2.93M250.76 301.4v2.12M250.75 311.67v2.59M250.5 324.32v5.15M250.77 337.03v2.75M254.37 286.26v5.46M254.78 293.88v3.79M254.82 307.38v4.07M254.51 316.24v4.3M254.63 338.63v3.95M254.53 347.08v5.4M260.05 245.57v4.66M259.79 258.4v3.87M260.24 276.01v2.4M259.93 298.78v2.54M259.88 318.53v2.98M259.84 323.82v2.48M260.02 326.98v3.25M260.19 330.93v4.96M260.14 340.67v2.28M264.96 244.49v4.7M264.92 249.96v3.1M265.23 282.86v4.24M264.91 302.9v5.88M272.92 260.32v2.03M273.04 272.43v2.85M272.74 305.44v5.46M272.94 317.85v5.99M272.58 341.66v2.54M272.71 344.75v2.46M272.74 356.57v2.95M280.88 245.41v2.19M280.83 260.71v5.02M280.68 271.27v3.65M280.92 275.58v2.12M281.05 278.82v5.46M280.67 290.71v3.38M281.04 310.35v2.14M281.01 330.38v2.07M280.65 353.48v3.89M289.59 244.34v5.41M289.62 277.82v3.75M289.67 282.07v5.04M289.67 295.84v3.14M289.64 338.75v2.45M289.34 348.61v3.57M289.44 356.77v5.44M293.25 245.74v5.71M293.6 252.73v3.73M293.4 258.05v2.49M293.64 261.48v3.52M293.22 277v5.39M293.51 283.82v4.71M293.2 306.53v3.28M293.16 330.13v4.2M293.41 336.55v5.63M293.27 353.72v5.01M298.08 245.32v2.58M297.89 282.77v2.41M297.84 293.51v2.01M297.69 296.05v5.61M297.69 314.89v2.65M297.78 318.19v4.52M297.66 357.94v4.16M137.12 344.66v1.56M71.36 335.56v1.37M248.17 311.91v1.23M240.26 301.2v1.98M72.45 336.83v1.62M176.64 305.5v1.08M114.62 334.42v1.52M213.49 278.3v1.49M221.92 337.6v1.74M121.4 352.12v1.77M182.72 357.85v1.61M199.63 277.44v1.11M65.07 292.76v1.84M293.57 327.92v1.87M285.81 254v1.84M140.45 327.79v1.54M165.15 356.18v1.68M272.12 253.72v1.15M187.79 283.72v1.71M285.89 285.71v1.45M182.51 326.07v1.55M220.56 337.15v1.3M207.09 294.42v1.91M191.81 333.11v1.32M125.45 357.01v1.06M68.07 332.6v1.04M238.84 327.73v1.31M197.26 355.63v1.88M87.31 327.24v1.24M129.35 282.43v1.77M160.67 318.5v1.46M276.14 339.83v1.66M255.84 294.39v1.97M228.46 339.54v1.33M190.7 319.04v1.67M230.98 284.64v1.28M84.32 351.29v1.81M248.86 302.9v1.8M93.16 340.02v1.22M152.68 348.95v1.24M51.89 247.24v1.59M99.66 284.84v1.8M105.97 244.03v1.94M53.86 326.34v1.16M126.15 293.69v1.3M168.81 334.13v1.59M242.01 282.77v1.42M198.53 286.34v1.69M217.28 328.89v1.6M117.16 289.49v1.94M201.98 298.12v1.94M130.71 261.1v1.35M156.13 307.91v1.85M82.8 344.54v1.11M130.65 322.79v1.16M175.9 308.75v1.34M200.37 286.59v1.49" stroke="#05059f"/>
<path d="M42.53 263.6v4.77M42.55 286.38v3.83M42.24 297.75v5.07M42.07 260.47v1.68M42.14 278.05v1.42M42.43 321.89v1.55M49.26 245.73v4.28M49.37 250.69v3.82M49.45 277.15v4.08M49.61 283.29v5.62M49.44 289.59v3.81M49.41 315.9v5.91M49.67 342.6v2.59M49.29 347.04v5.78M49.57 353.69v4.11M49.52 261.67v1.59M61.96 250.9v2.04M61.97 261.21v4.13M61.93 282.76v4.2M62.02 319.23v5.02M61.88 349.8v4.41M61.71 276.39v1.8M62.09 289.81v1.54M65.74 345.95v3.92M65.55 356.56v5.67M71.16 245.81v3.53M71.57 270.31v5.01M71.31 282.65v4.1M71.41 305.36v3.59M71.36 315.39v5.87M71.64 273.99v1.42M71.45 276.82v1.62M75.92 270.92v1.46M81.37 254.59v3.49M81.44 259.08v3.57M81.02 263.87v4.78M81.36 336.59v4.94M81.15 343.54v5.94M81.02 254.75v1.74M81.23 325.48v1.42M86.25 251.33v4.52M86.2 285.67v3.13M86.38 307.76v3.45M86.54 323.97v4.68M86.11 280.43v1.33M91.2 261v4.76M91.17 317.76v2.41M96.14 248.45v2.87M96.19 268.46v3.15M96.43 278.1v2.57M96.31 292.76v2.54M95.99 311.54v5.05M96.41 317.46v2.31M105.86 245.63v2.69M106 299.58v4.49M105.89 316.6v2.13M106.1 319.53v5.47M109.62 337.13v2.51M109.79 347.24v4.22M109.89 275.84v1.91M112.93 261.06v3.68M113.23 278.1v5.97M113.08 286.06v4.58M113.15 312.76v5.11M112.78 318.27v4.19M112.86 354.82v1.45M116.4 294.82v2.95M116.33 303.57v4.87M116.15 251.05v1.64M121.51 305.09v2.98M121.23 315.12v3.18M121.47 350.67v2.2M121.43 270.3v1.37M125.59 277.41v3.82M125.69 304.15v4.47M132.53 264.03v4.74M132.73 280.58v2.51M132.55 295.77v2.94M132.74 309.7v5.37M132.69 252.3v1.83M132.46 324.1v1.21M137.84 350.94v4.6M138.05 326.65v1.56M142.59 251.28v5.67M142.86 294.35v3.69M142.77 308.46v4.81M142.62 322.5v2.71M142.86 349.54v5.84M142.6 339.71v1.67M151.73 266.84v3.4M151.77 271.08v2.77M151.99 288.96v2.72M151.61 306.88v3.27M151.91 311.47v2.88M151.95 340.34v2.15M151.7 344.44v4.65M151.73 344.11v1.2M157.14 254.53v2.47M157.1 313.57v2.1M156.76 328.91v5.75M157.01 355.6v4.12M161.67 269.1v4.36M166.02 264.55v5.31M174.43 267.93v4.72M174.57 332.94v5.67M174.69 345.19v1.3M179.61 337.76v4.79M179.47 355.91v3.28M184.95 243.9v2.84M184.78 251.39v5.35M184.58 278.29v4.82M185.03 287.89v2.24M184.92 323.28v3.52M184.79 333.75v4.18M195.27 310.49v4.77M195.44 324.58v5.79M194.99 342.73v3.54M195.05 350.15v4.26M195.06 269.76v1.4M201.12 310.48v5.88M200.84 329.45v3.47M201.02 277.12v1.81M200.93 340.97v1.39M208.2 249.24v5.72M208.03 267.95v3.45M207.8 294.41v2.48M207.94 299.06v3.65M208 303.88v2M208.19 343.84v5.76M217.2 278.2v4.03M217.41 334.2v4.23M217.51 344.21v1.72M222.99 293.82v3.47M228.91 259.64v4.24M228.85 291.75v5.81M228.91 298.89v4M228.71 304.44v5.49M229.07 319.64v5.18M228.84 337.77v5.47M228.92 357.19v4.12M228.85 344.61v1.68M239.83 250.52v3.54M239.86 254.52v2.98M239.9 258.47v4.27M239.64 264.98v3.56M239.58 309.27v4.83M239.58 325.12v4.34M239.73 345.29v2.48M239.96 348.65v4.05M240.04 324.6v1.47M246.95 307.76v5.06M246.82 337.53v5.55M247.05 343.55v4.48M250.56 248.27v3.77M250.46 305.58v5.06M250.91 314.77v2.41M250.6 318.5v4.39M250.48 348.25v2.16M250.85 351.49v5.87M250.49 357.77v3.91M250.67 314.37v1.72M254.35 244.55v3.78M254.46 259.04v5.92M254.56 283.44v2.23M254.46 299.96v5.2M254.43 333.85v2.56M254.68 343.63v2.07M254.81 356.67v4.62M254.69 348.22v1.66M260.16 287.85v2.79M264.78 287.99v4.38M272.81 276.56v2.17M272.7 288.62v5.57M272.83 295.55v2.84M272.57 335.83v3.49M272.75 348.78v5.63M280.95 307.7v1.92M280.89 314.53v1.2M289.6 254.06v3.69M289.46 259.81v4.11M289.3 266.31v3.16M289.39 300.99v3.75M289.42 305.54v4.07M289.57 332.23v4.3M293.64 271.31v4.54M293.21 289.02v3.48M293.17 319.08v4.48M293.33 288.84v1.81M298.03 348.59v3.74M297.79 266.49v1.71M297.95 331.02v1.71M276.74 260.86v1.69M68.83 324.36v1.82M169.24 323.53v1.54M265.58 247.01v1.23M59.36 276.5v1.74M160.26 355.94v1.16M91.28 345.72v1.62M80.06 333.54v1.88M124.86 256.61v1.23M241.83 308.51v1.93M126.75 301.43v1.11M98.22 281.81v1.23M245.91 286.65v1.48M217.98 337.51v1.92M199.57 284.63v1.78M142.89 287.22v1.98M286.38 244.48v1.59M215.07 344.38v1.81M56.81 286.78v1.52M233.91 275.99v1.61M297.51 283.32v1.15M287.94 351.79v1.44M215.75 276.71v1.82M141.23 277.21v1.15M81.35 352.93v1.36M113.82 315.4v1.94M176.31 353.8v1.9M213.07 327.1v1.65M260.74 265.83v1.91M101.63 345.55v1.79M250.42 335.61v1.34M90.4 262.98v1.57M192.64 278.02v1.34M294.97 267.29v1.72M101.07 343.85v1.76M293.66 320.28v1.41M213.87 311.64v1.6M78.41 333.95v1.66M54.7 258.83v1.65M117.88 269.64v1.31M173.65 267.47v2M108.59 324.11v1.53M222.48 356.85v1.22M196.07 276.17v1.17M129.49 285.26v1.6M176.89 310.5v1.6M183.95 328.44v1.74M56.94 274.64v1.67M221.49 313.03v1.02M210.43 259.6v1.61M294.78 291.18v1.59M238.48 334.56v1.7M149.5 316.75v1.08M286.74 346.27v1.28M223.45 288.36v1.12M167.21 315.81v1.37M263.4 255.24v1.83M102.75 253.45v1.75M225.18 268.32v1.59M144.53 304.96v1.87M300.27 263.17v1.41M94.97 273.19v1.54M224.18 246.12v1.89" stroke="#0d0dcf"/>
<path d="M42.06 327.47v1.69M42.12 343.67v1.51M42.53 346.67v1.87M42.47 352.44v1.7M49.41 298.24v1.85M49.32 320.97v1.64M49.45 345.5v1.76M61.99 255.27v1.7M61.86 280.11v1.7M61.99 292.26v1.27M61.92 318.55v1.36M61.92 342.74v1.97M62.06 346.52v1.77M65.68 245.18v1.45M65.84 312.17v1.29M65.81 318.67v1.48M71.48 263.78v1.36M71.43 292.7v1.94M71.41 296.34v1.49M71.55 325v1.93M76.1 262.18v1.54M76.22 280.83v1.96M75.96 284.67v1.7M75.83 327.92v1.56M76.1 341.72v1.86M81.07 292.28v1.73M81.03 332.28v1.64M81.28 345.04v1.9M81.01 350.74v1.68M86.17 261.17v1.61M86.26 299.09v1.79M86.07 302.35v1.49M86.25 305.81v1.25M86.29 308.17v1.28M86.21 329.61v1.99M86.05 338.77v1.95M86.11 355.22v1.87M91.62 272.03v1.65M91.41 293.34v1.26M91.49 316.14v1.22M91.59 345.15v1.74M91.49 355.82v1.44M96.44 273.65v1.6M96.06 289.88v1.6M96.35 297.38v1.75M96.07 301.05v1.34M95.98 307.35v1.93M101.31 296.69v1.96M101.28 307.18v1.54M101.23 319.98v1.86M101.12 323.4v1.22M101.46 344.21v1.58M105.76 347.04v5.96M105.79 253.8v1.38M106.1 340.65v1.51M105.95 347.36v1.76M109.84 284.04v1.95M109.54 320.48v1.72M109.63 334.9v1.49M113.11 246.3v1.48M113.13 277.89v1.27M112.81 292.97v1.99M112.98 335.36v1.92M113.18 338.83v1.66M112.79 358.09v1.9M116.15 299.29v1.75M116.12 302.01v1.68M115.96 305.86v1.36M121.48 273.13v1.99M121.46 300.98v1.26M121.52 318.9v1.24M121.18 330.72v1.69M125.77 272.75v1.43M125.6 317.93v1.39M125.68 336.67v1.27M125.8 355.87v1.96M132.63 282.25v1.96M132.39 297.27v1.92M132.73 301.25v1.48M132.46 309.56v1.84M137.97 309.9v1.81M138.03 312.81v1.42M138.15 339.3v1.36M137.81 346.05v1.49M143 307.72v1.8M142.64 333.64v1.71M151.61 249.1v1.28M152.05 290.1v1.43M151.72 312.36v1.39M151.65 323.11v1.63M151.56 352.71v1.78M157.14 315.66v1.65M156.84 327.24v1.98M156.95 330.98v1.61M157.12 353.39v1.95M161.51 262.58v1.23M161.39 314.82v1.55M161.53 352.8v1.64M165.9 286.93v1.79M165.76 301.82v1.4M166.11 316.55v1.85M165.86 354.58v1.52M174.46 336.28v1.22M174.4 352.16v1.42M179.59 268.31v1.97M179.63 305.86v1.83M179.6 324.04v1.83M184.81 272.34v1.75M185.01 293.07v1.65M184.59 304.77v1.64M184.75 310.47v1.67M185.04 325.84v1.74M184.65 328.91v1.22M184.9 337.68v1.56M184.95 346.16v1.63M195.01 331.87v3.76M195.24 246.69v1.77M195.37 284.38v1.99M195.41 287.38v1.9M195.45 299.9v1.52M200.84 300.97v1.89M200.86 304.45v1.25M200.76 313.45v1.34M200.87 344.5v1.49M201.04 350.68v1.83M208.15 245.29v1.68M208.23 263.8v1.86M208.03 270.35v1.68M207.96 278.46v1.93M208.16 289.05v1.75M208.02 294.68v1.44M207.89 303.75v1.64M207.92 354.73v1.79M213.62 271.75v1.76M213.3 276.97v1.41M213.42 321.56v1.64M217.25 302.15v1.81M217.48 309.47v1.72M217.51 319.1v1.65M217.23 339.1v1.28M217.45 354.46v1.74M222.98 340.61v1.4M228.9 291.17v1.54M228.92 298.41v1.84M228.91 324.16v1.89M228.98 333.11v1.66M239.72 312.77v1.55M239.59 333.5v1.94M239.68 354.66v1.29M247.01 301.75v1.39M246.83 305.12v1.89M246.99 323.02v1.47M246.77 326.68v1.34M247.03 328.89v1.61M246.97 350.39v1.69M250.9 253.85v1.32M250.93 265.11v1.78M250.86 289.19v1.62M250.5 291.8v1.49M250.62 294.99v1.99M250.57 323.82v1.57M254.37 324.22v1.49M254.54 339.69v1.28M260.25 307.15v1.23M260.01 309.98v1.94M265.15 299.77v1.33M264.75 305.72v1.29M264.82 317.23v1.36M272.66 253.68v1.44M272.97 318.2v1.31M273.03 320.84v1.41M281.11 245.99v1.98M281.13 282.69v1.95M280.9 305.27v1.61M280.85 322.72v1.33M289.56 248.19v1.22M289.74 260.74v1.95M289.49 296.91v1.31M289.71 299.51v1.23M289.65 301.55v1.84M289.63 304.2v1.37M289.62 311.42v1.39M289.46 322.8v1.25M293.65 279.13v1.37M293.58 291.83v1.51M293.58 306.78v1.38M293.41 350.34v1.74M297.96 314.54v1.71M297.67 323.94v1.4M297.97 327.24v1.71" stroke="#1c14f4"/>
<path d="M49.37 294.52v1.88M76.23 305.21v1.7M76.24 356.92v1.71M81.26 295.65v1.66M81.03 298.73v1.67M86.07 282.98v1.97M86.43 333.55v1.83M91.58 252.38v1.9M91.24 353.08v1.62M96.2 279.95v1.84M105.77 273.52v1.71M106.06 332.64v1.51M116.37 283.14v1.69M116.34 286.51v1.99M116.44 321.32v1.3M132.42 336.02v1.42M137.98 293.42v1.81M137.81 354.68v1.47M151.73 264.77v1.3M151.65 286.77v1.96M156.77 266.69v1.88M157.12 337.63v1.57M161.47 247.78v1.47M161.67 305.75v1.61M166.24 274.41v1.69M165.77 295.52v1.54M166.25 344.76v1.32M179.63 253.48v1.64M179.75 297.01v1.48M179.38 333.69v1.6M185.03 353.86v1.79M195.41 260.4v1.53M195.03 281.82v1.22M195.39 324.68v1.72M201.25 356.25v1.5M208.24 320.05v1.32M207.85 329.05v1.64M229.05 305.98v1.69M229.14 312.02v1.44M239.6 279.84v1.27M239.64 297.22v1.94M239.74 337.49v1.4M250.5 283.35v1.36M250.93 317.02v1.26M250.67 354.18v1.73M254.52 281.4v1.44M254.57 345.03v1.92M260.24 301.57v1.24M259.92 324.87v1.99M272.82 332.53v1.96M280.66 317.2v1.44M289.48 244.89v1.45M289.74 308.97v1.3M289.46 317v1.51M289.48 340.97v1.95M297.81 311.97v1.36" stroke="#4615ef"/>
<path d="M42.09 311.76v1.51M49.5 252.51v1.66M49.3 280.11v1.46M49.57 291.65v1.33M61.76 273.4v1.7M61.85 315.71v1.49M65.46 299.91v1.51M81.38 322.56v1.85M86.43 321.81v1.45M96.35 304.48v1.22M96.34 331.47v1.84M101.55 274.03v1.69M106.13 304.69v1.34M109.55 356.23v1.9M113.01 322.75v1.9M116.25 324.51v1.33M116.44 326.82v1.97M116.11 332.55v1.37M121.37 337.44v1.96M132.44 304.49v1.34M142.58 336.8v1.83M151.59 300.06v1.92M151.86 340.65v1.38M161.44 311.65v1.6M165.92 262.19v1.53M166.21 310.81v1.61M166.01 335.06v1.82M174.44 273.91v1.23M174.46 355.61v1.21M184.74 334.32v1.43M195.24 306.39v1.38M194.98 316.23v1.97M200.89 271.57v1.68M207.85 348v1.28M213.37 305.39v1.68M213.32 311.79v1.69M217.44 278.6v1.71M222.9 285.12v1.4M250.46 279.84v1.73M254.68 332.22v1.5M260.17 312.85v1.52M272.76 277.17v1.65M289.32 314.29v1.7M289.64 353.04v1.96M293.35 330.9v1.65" stroke="#7317e0"/>
<path d="M42.46 251.11v1.35M42.34 308.55v1.53M49.38 348.9v1.6M49.45 352.58v1.8M62.09 350.02v1.88M71.17 345v1.32M76.02 320.7v1.5M86.27 346.27v1.93M106.08 358.04v1.91M138.13 281v1.23M138.19 299.99v1.95M143.05 295.24v1.85M142.84 300.48v1.59M157 321.32v1.97M161.62 329.36v1.29M166.02 244.23v1.62M174.63 243.86v1.26M174.54 304.02v1.86M184.57 340.27v1.76M195.21 253.98v1.65M207.91 351.43v1.52M228.69 341.48v1.21M254.41 314.41v1.45M265.02 320.2v1.65" stroke="#a81cb7"/>
<path d="M42.51 287.95v1.31M42.49 356.32v1.56M49.3 318.37v1.75M49.73 327.22v1.94M61.92 328.09v1.72M71.51 250.15v1.9M71.31 328.06v1.32M76 290.76v1.93M76.1 325.71v1.25M81.42 354.2v1.57M86.51 286.33v1.26M101.45 328.9v1.34M105.76 317.68v1.32M106.17 321.02v1.5M105.89 324.17v1.93M112.76 271.23v1.51M113.09 314.75v1.65M112.99 320.48v1.44M125.8 349.4v1.82M132.34 345.35v1.74M132.26 348.32v1.35M132.61 351.2v1.81M132.66 356.74v1.62M142.89 281.8v1.74M142.64 315.55v1.78M151.89 306.69v1.54M151.83 315.15v1.44M151.86 326.41v1.39M165.86 293.19v1.51M174.78 333.39v1.34M179.36 264.81v1.77M179.55 289.96v2M179.33 294.15v1.56M179.6 315.51v1.31M184.63 299v1.3M195.33 331.37v1.22M195.38 350.21v1.93M200.75 318.43v1.85M217.29 322.91v1.73M229.09 270.51v1.4M239.86 340.76v1.37M250.52 299.16v1.86M250.59 345.44v1.5M250.73 348.02v1.34M254.85 279.01v1.58M254.43 329.33v1.28M254.85 334.91v1.54M264.92 259.03v2M264.97 297.49v1.25M264.79 314.68v1.55M281.1 286.27v1.62M280.71 338.52v1.23M280.93 354.09v1.42M289.34 267.94v1.22M289.43 281.32v1.21M289.45 283.93v1.77M289.36 306.41v1.61M289.7 356.21v1.23M293.22 258.3v1.82M293.56 357.33v1.91M297.75 334.72v1.88" stroke="#cb1d73"/>
<path d="M42.5 280.78v1.66M42.5 304.6v1.93M42.4 324.29v1.68M42.5 330.38v1.74M42.16 349.73v1.34M49.71 274.09v1.45M49.38 305.6v1.31M49.63 314.89v1.97M49.51 330.61v1.81M61.86 265.47v1.23M62.14 282.97v1.85M61.98 294.74v1.82M62.01 300.69v1.43M62.09 321.87v1.65M61.93 324.72v1.22M61.97 333.9v1.71M65.8 282.78v1.31M65.74 328.95v1.36M65.49 351.6v1.86M71.3 260.43v1.56M71.61 270.58v1.67M71.26 312.51v1.83M71.16 319.16v1.9M71.55 322.55v1.55M71.19 331.05v1.62M71.5 334.61v1.34M71.33 337.91v1.83M71.53 340.85v1.98M71.3 347.46v1.91M75.93 265.29v1.76M76.04 267.94v1.52M76.01 323.33v1.4M76 331.49v1.9M76.13 337.97v1.77M81.29 273.09v1.76M81.44 276.98v1.46M81.06 279.45v1.71M81.37 338.48v1.29M81.26 348.34v1.21M86.33 264.15v1.24M86.35 318.5v1.68M86.45 324.13v1.27M86.39 326.8v1.89M86.09 352.96v1.29M91.21 277.49v1.92M91.36 295.9v1.6M91.54 347.94v1.32M96.44 253.28v1.91M96.33 314.32v1.45M95.98 317.95v1.7M95.96 328.85v1.59M95.97 347.37v1.42M96.07 350.8v1.63M95.98 353.51v1.66M101.46 276.8v1.93M106.02 248.31v1.74M106.23 268.59v1.22M106.17 288.74v1.35M105.94 291.87v1.98M105.79 307.63v1.39M106.17 311.03v1.23M105.78 313.93v1.8M105.83 327.17v1.29M106.03 329.5v1.63M106.13 344.23v1.23M109.53 267.03v1.52M109.75 281.42v1.74M109.52 304.76v1.84M109.82 311.27v1.64M109.81 314.78v1.47M109.86 317.7v1.29M109.75 324.36v1.68M109.64 331.55v1.98M109.9 351.5v1.29M112.93 259.29v1.32M112.9 302.87v1.61M112.92 309.77v1.26M113.02 312.14v1.25M112.78 317.67v1.59M112.94 344.8v1.93M115.98 266.04v1.47M116.21 308.44v1.92M116.09 311.53v1.63M121.46 288.94v1.57M121.08 298.49v1.53M121.19 342.87v1.82M125.77 285.38v1.47M125.97 305.68v1.22M125.95 321.42v1.59M125.64 324.19v1.67M125.84 327.37v1.75M125.6 334.48v1.34M126.05 339.81v1.56M132.5 261.12v1.6M132.54 267.09v1.41M132.62 294.62v1.29M132.45 307.16v1.47M132.41 320.75v1.67M132.5 342.32v1.26M132.64 353.91v1.31M138.12 263.18v1.71M138.01 329.86v1.63M137.93 332.72v1.38M137.88 335.72v1.74M142.61 254.44v1.48M142.71 275.5v1.44M142.92 311.43v1.98M142.59 318.49v1.66M143.04 321.91v1.85M142.59 342.62v1.53M142.86 349.48v1.49M142.59 353.05v1.96M151.71 267.98v1.78M151.9 283.47v1.85M151.79 297.32v1.79M152 309.89v1.6M151.86 318.39v1.47M151.78 320.81v1.45M152.04 333.68v1.88M151.6 337.68v1.71M152.05 355.8v1.99M156.93 286.52v1.89M156.96 290.28v1.73M157.23 299.83v1.35M156.98 324.27v1.5M156.88 334.34v1.67M156.85 340.86v1.61M161.74 259.39v1.87M161.62 284.46v1.54M161.58 288v1.95M161.5 317.45v1.39M161.51 320.71v1.99M161.54 323.5v1.71M161.54 331.94v1.91M161.72 338.99v1.66M166.04 342.07v1.48M166.04 357v1.58M174.76 259.77v1.49M174.81 281.62v1.6M174.81 301.16v1.8M174.74 310.31v1.74M174.44 313.06v1.53M174.62 327.32v1.43M174.49 330.35v1.31M179.39 318.12v1.76M179.42 351v1.5M185 251.34v1.35M184.58 287.63v1.39M184.95 289.95v1.64M184.85 357.34v1.68M195.4 263.81v1.56M195.06 266.81v1.76M195.26 303.1v1.48M195.38 312.87v1.98M195.11 319.07v1.74M195.06 322.44v1.28M195.22 328.2v1.21M195.2 337.01v1.44M195.14 354.3v1.47M195.2 357.46v1.75M200.82 261.19v1.83M200.79 321.51v1.57M201.2 323.88v1.91M201.01 327.42v1.79M200.89 331.39v1.98M201.13 353.45v1.74M208.08 248.89v1.82M207.91 255.2v1.26M208.14 257.31v1.93M207.81 292.17v1.42M207.94 300.59v1.4M207.76 313.65v1.6M208.17 335.3v1.58M208.13 358.14v1.56M213.45 279.75v1.47M213.31 282.12v1.44M213.33 288.49v1.76M217.51 272.6v1.49M217.46 297.04v1.39M217.08 305.96v1.77M217.15 326.04v1.74M217.22 332.36v1.56M217.1 335.1v1.96M222.88 268.9v1.58M223.21 319.51v1.77M223 334.7v1.41M222.86 337.44v1.98M223.17 353.62v1.86M228.73 253.02v1.33M228.87 335.93v1.57M228.66 353.57v1.99M229.01 356.47v1.94M239.81 245.44v1.56M239.67 269.04v1.28M239.86 318.05v1.29M239.78 348.81v1.65M239.66 352.44v1.36M239.67 357.73v1.24M247.01 267.73v1.73M246.66 280.4v1.88M246.96 284.13v1.92M246.75 311.25v1.58M247.13 347.36v1.88M250.79 302.87v1.49M250.65 305.88v1.29M250.72 308.72v1.96M250.61 320.11v1.69M250.83 342.56v1.68M250.82 357.92v1.54M254.74 294.19v1.95M254.55 310.72v1.75M254.5 355.57v1.58M259.9 318.87v1.42M259.88 338.68v1.57M260.08 341.57v1.94M259.84 345.16v1.88M260.16 353.94v1.56M265.22 249.52v1.87M264.8 265.09v1.99M264.94 302.46v1.48M265.19 325.83v1.6M265.19 328.78v1.6M272.66 260.18v1.24M272.95 267.62v1.24M272.76 325.53v1.49M280.84 289.4v1.51M280.84 292.38v1.72M281.01 319.98v1.39M280.71 325.94v1.5M281.03 335.88v1.3M280.89 341.11v1.92M280.76 344.53v1.86M280.95 347.69v1.43M280.75 350.43v1.7M280.91 356.69v1.74M289.57 263.93v1.99M289.32 270.69v1.39M289.63 293.64v1.43M289.62 325.64v1.87M289.65 328.4v1.75M289.55 332.03v1.53M289.37 335.15v1.95M289.53 338.14v1.96M289.5 358.5v1.39M293.58 261.99v1.92M293.4 303.07v1.85M293.56 310.19v1.85M293.5 320.32v1.87M293.23 323.41v1.93M293.49 333.89v1.94M293.62 344.35v1.47M297.95 272.34v1.24" stroke="#e61c22"/>
<path d="M42.15 275.53v1.69M49.31 307.84v1.87M62.11 262.09v1.35M62.1 313.11v1.45M65.9 315.41v1.69M65.52 334.85v1.57M65.57 348.13v1.86M71.53 350.76v1.26M81.27 312.33v1.59M81.31 319.41v1.99M81.38 328.81v1.59M81.05 341.43v1.92M86.13 266.84v1.88M86.42 277.43v1.21M86.37 336.24v1.7M91.33 262.73v1.41M91.49 327.51v1.22M91.64 333.86v1.2M96.09 258.86v1.67M96.07 276.44v1.55M96.41 340.98v1.95M96.34 344.14v1.96M105.82 266.26v1.25M106.12 351.12v1.81M106.2 354.94v1.49M109.82 279.23v1.31M109.92 297.86v1.71M115.99 339.63v1.94M116.01 343.18v1.26M121.35 245.78v1.3M125.78 330.97v2M125.77 352.28v1.65M143.01 297.99v1.37M142.7 304.12v1.94M142.58 331.25v1.47M142.61 345.85v1.96M157 318.4v1.5M157.02 343.8v1.67M161.57 335.4v1.83M165.76 338.73v1.33M165.76 351.72v1.33M174.57 298.98v1.36M179.73 309.37v1.26M184.65 307.86v1.36M184.83 313.63v1.94M184.89 343.23v1.2M195.35 333.52v1.59M195.27 340.08v1.56M201.08 281.11v1.72M200.8 297.26v1.69M200.97 315.71v1.81M200.79 337.44v1.57M213.74 259.47v1.32M213.28 314.67v1.45M213.63 331.1v1.65M228.81 308.7v1.38M228.76 315.06v1.68M239.97 265.2v1.87M239.92 315.44v1.25M239.98 321.34v1.49M240.02 327.88v1.25M254.8 287.66v1.75M254.51 351.84v1.64M260.24 289.39v1.9M259.91 321.27v1.86M272.59 250.5v1.94M272.56 312.48v1.83M272.68 323.15v1.25M272.97 338.92v1.22M272.69 347.91v1.92M280.94 298.73v1.7M289.73 350.55v1.43M293.39 275.42v1.82M293.22 313.42v1.45M293.38 327.05v1.84M293.58 346.9v1.31M293.39 353.53v1.9M297.79 320.62v1.31M297.9 357.5v1.74" stroke="#f13f15"/>
<path d="M49.36 276.53v1.82M49.59 311.07v1.75M112.93 264.84v1.87M121.45 321.23v1.36M125.71 307.73v1.33M142.86 278.74v1.71M156.86 279.53v1.84M174.77 348.46v1.71M201.02 264.39v1.91M208.17 317.1v1.87M207.91 322.44v1.31M239.99 300.44v1.6M254.4 326.91v1.31M272.67 300.34v1.31M273.04 315.27v1.64M280.66 302.37v1.34" stroke="#fa660e"/>
<path d="M42.29 291.04v1.97M49.67 333.83v1.68M62.1 331.71v1.27M71.51 315.96v1.6M75.95 299.52v1.39M76.22 350.72v1.35M81.15 257.79v1.54M81.38 335.23v1.28M96.08 267.91v1.5M105.94 295.66v1.59M115.98 346.24v1.62M121.17 324.61v1.32M121.17 340.64v1.29M156.94 283.32v1.22M195.28 309.3v1.53M207.77 310.58v1.34M217.32 341.32v1.7M228.7 288.03v1.94M239.99 262.22v1.86M250.6 338.46v1.99M289.61 287.45v1.68" stroke="#ff9015"/>
<path d="M105.94 298.79v1.24M106.04 335.22v1.47M137.94 358.17v1.44M166.19 246.67v1.52M207.98 297.13v1.48M239.86 343.13v1.54" stroke="#ffbf2a"/>
</g>
<g filter="url(#bl)" fill="none" stroke-linecap="round" stroke-linejoin="round">
<path d="M42.6 309.49 L43.38 307.11 L45.18 306.19 L47.34 306.74 L49 309.85" stroke="#2a15f2" stroke-width="1.1" stroke-opacity="0.77"/>
<path d="M42.6 355 L43.38 352.61 L45.18 351.69 L47.34 352.24 L49 355.36" stroke="#3115f1" stroke-width="1.1" stroke-opacity="0.55"/>
<path d="M49.8 290.73 L51.36 287.68 L54.46 286.51 L58.18 287.21 L61.4 291.19" stroke="#2c15f2" stroke-width="1.1" stroke-opacity="0.52"/>
<path d="M49.8 354.97 L51.36 352.49 L54.46 351.54 L58.18 352.11 L61.4 355.35" stroke="#1212ea" stroke-width="1.1" stroke-opacity="0.71"/>
<path d="M62.2 312.99 L63.33 310.07 L65.7 308.94 L68.55 309.62 L70.9 313.44" stroke="#1f14f4" stroke-width="1.1" stroke-opacity="0.57"/>
<path d="M71.7 267.25 L72.87 264.32 L75.32 263.19 L78.26 263.86 L80.7 267.7" stroke="#2d15f2" stroke-width="1.1" stroke-opacity="0.5"/>
<path d="M71.7 337.6 L72.87 334.28 L75.32 333 L78.26 333.77 L80.7 338.11" stroke="#1d14f4" stroke-width="1.1" stroke-opacity="0.78"/>
<path d="M81.5 287.91 L81.97 285.68 L83.24 284.83 L84.77 285.34 L85.8 288.26" stroke="#3815f1" stroke-width="1.1" stroke-opacity="0.53"/>
<path d="M81.5 357.07 L81.97 353.73 L83.24 352.45 L84.77 353.22 L85.8 357.58" stroke="#3915f0" stroke-width="1.1" stroke-opacity="0.54"/>
<path d="M96.5 267.53 L97.67 264.89 L100.12 263.87 L103.06 264.48 L105.5 267.94" stroke="#1f14f4" stroke-width="1.1" stroke-opacity="0.61"/>
<path d="M96.5 312.44 L97.67 309.63 L100.12 308.55 L103.06 309.2 L105.5 312.88" stroke="#1814f4" stroke-width="1.1" stroke-opacity="0.72"/>
<path d="M96.5 352.12 L97.67 350.17 L100.12 349.43 L103.06 349.88 L105.5 352.42" stroke="#2014f4" stroke-width="1.1" stroke-opacity="0.71"/>
<path d="M106.3 336.56 L107.05 333.85 L108.8 332.81 L110.9 333.43 L112.5 336.97" stroke="#3115f1" stroke-width="1.1" stroke-opacity="0.49"/>
<path d="M143.1 266.17 L144.15 264.21 L146.4 263.45 L149.1 263.91 L151.3 266.47" stroke="#1111e4" stroke-width="1.1" stroke-opacity="0.77"/>
<path d="M143.1 354.3 L144.15 351.47 L146.4 350.38 L149.1 351.03 L151.3 354.73" stroke="#3915f0" stroke-width="1.1" stroke-opacity="0.56"/>
<path d="M152.1 267.01 L152.58 264.29 L153.88 263.24 L155.44 263.87 L156.5 267.43" stroke="#2214f3" stroke-width="1.1" stroke-opacity="0.71"/>
<path d="M152.1 287.86 L152.58 285.89 L153.88 285.13 L155.44 285.59 L156.5 288.17" stroke="#2014f3" stroke-width="1.1" stroke-opacity="0.55"/>
<path d="M157.3 334.53 L158.35 332.31 L160.6 331.46 L163.3 331.97 L165.5 334.87" stroke="#3315f1" stroke-width="1.1" stroke-opacity="0.61"/>
<path d="M157.3 355.95 L158.35 353.09 L160.6 351.99 L163.3 352.65 L165.5 356.4" stroke="#1e14f4" stroke-width="1.1" stroke-opacity="0.5"/>
<path d="M185.1 287.84 L186.36 285.36 L188.96 284.4 L192.08 284.98 L194.7 288.22" stroke="#2b15f2" stroke-width="1.1" stroke-opacity="0.72"/>
<path d="M185.1 356.03 L186.36 352.78 L188.96 351.53 L192.08 352.28 L194.7 356.53" stroke="#0f0fd8" stroke-width="1.1" stroke-opacity="0.79"/>
<path d="M195.5 267.28 L196.07 265.2 L197.52 264.4 L199.26 264.88 L200.5 267.6" stroke="#1010df" stroke-width="1.1" stroke-opacity="0.57"/>
<path d="M195.5 289.06 L196.07 286.35 L197.52 285.3 L199.26 285.93 L200.5 289.48" stroke="#0f0fd6" stroke-width="1.1" stroke-opacity="0.51"/>
<path d="M195.5 311.69 L196.07 309.77 L197.52 309.03 L199.26 309.47 L200.5 311.99" stroke="#0c0cc5" stroke-width="1.1" stroke-opacity="0.69"/>
<path d="M201.3 335.09 L202.05 331.71 L203.8 330.4 L205.9 331.18 L207.5 335.61" stroke="#3a15f0" stroke-width="1.1" stroke-opacity="0.48"/>
<path d="M201.3 353.7 L202.05 350.34 L203.8 349.04 L205.9 349.82 L207.5 354.22" stroke="#2e15f2" stroke-width="1.1" stroke-opacity="0.52"/>
<path d="M208.3 313.36 L209.4 310.45 L211.72 309.33 L214.51 310 L216.8 313.81" stroke="#2b15f2" stroke-width="1.1" stroke-opacity="0.46"/>
<path d="M217.6 290.4 L219.04 288.26 L221.94 287.44 L225.42 287.93 L228.4 290.73" stroke="#1313ee" stroke-width="1.1" stroke-opacity="0.49"/>
<path d="M217.6 335.34 L219.04 333.62 L221.94 332.95 L225.42 333.35 L228.4 335.61" stroke="#2d15f2" stroke-width="1.1" stroke-opacity="0.67"/>
<path d="M229.2 265.63 L230.53 262.57 L233.26 261.39 L236.53 262.09 L239.3 266.1" stroke="#0a0abd" stroke-width="1.1" stroke-opacity="0.46"/>
<path d="M229.2 287.72 L230.53 285.17 L233.26 284.18 L236.53 284.77 L239.3 288.12" stroke="#1b14f4" stroke-width="1.1" stroke-opacity="0.51"/>
<path d="M229.2 310.8 L230.53 308.11 L233.26 307.08 L236.53 307.7 L239.3 311.21" stroke="#1d14f4" stroke-width="1.1" stroke-opacity="0.61"/>
<path d="M229.2 353.96 L230.53 351.62 L233.26 350.72 L236.53 351.26 L239.3 354.32" stroke="#1d14f4" stroke-width="1.1" stroke-opacity="0.49"/>
<path d="M281.2 334.05 L282.19 332.27 L284.34 331.59 L286.92 332 L289 334.32" stroke="#1010de" stroke-width="1.1" stroke-opacity="0.69"/>
<path d="M281.2 355.57 L282.19 353.34 L284.34 352.48 L286.92 353 L289 355.92" stroke="#1c14f4" stroke-width="1.1" stroke-opacity="0.55"/>
</g>
<g filter="url(#bl3)" fill="none" stroke-linecap="round" stroke-linejoin="round">
<path d="M61.9 267 L63.5 263.5 L65.6 261.8 L67.9 265" stroke="#1414f5" stroke-width="1.1" stroke-opacity="0.95"/>
<path d="M147.3 266.5 L151.8 263.3" stroke="#1414f5" stroke-width="1.1" stroke-opacity="0.95"/>
<path d="M248.2 254.3 L250.1 256.9 L250.7 267.2 L251.4 280 L252.7 282.6" stroke="#1414f5" stroke-width="1.1" stroke-opacity="0.95"/>
<path d="M230.2 292.3 L234 291 L239.2 293.5 L244.3 291" stroke="#1414f5" stroke-width="1.1" stroke-opacity="0.95"/>
<path d="M61.2 288.4 L65.7 289 L70.9 288.4" stroke="#1414f5" stroke-width="1.1" stroke-opacity="0.95"/>
<path d="M86.6 283.9 L91.7 282.6 L96.2 285.2" stroke="#1414f5" stroke-width="1.1" stroke-opacity="0.95"/>
<path d="M43 304 L49.5 303 L55 302 L61 304" stroke="#1414f5" stroke-width="1.1" stroke-opacity="0.95"/>
<path d="M50.5 318.5 L52.9 317.4 L55 318.5" stroke="#1414f5" stroke-width="1.1" stroke-opacity="0.95"/>
<path d="M217.2 321.4 L223 315.6" stroke="#1414f5" stroke-width="1.1" stroke-opacity="0.95"/>
<path d="M86.6 265.9 L88 262 L89.8 260.1 L91.7 259.4 L94 261 L96.2 264.6" stroke="#1414f5" stroke-width="1.5" stroke-opacity="0.6"/>
<path d="M107.2 289 L109.7 287.1 L114.2 285.2 L116 287.5" stroke="#1414f5" stroke-width="1.5" stroke-opacity="0.6"/>
<path d="M86.6 341.2 L91.7 345 L96.9 348.9" stroke="#1414f5" stroke-width="1.5" stroke-opacity="0.6"/>
<path d="M49.6 270 L50.5 266 L52.9 261.6 L56.1 260.5 L59.3 262 L61.2 265.2" stroke="#1b14f4" stroke-width="1.8" stroke-opacity="0.6"/>
<path d="M96.9 268.5 L98.8 264.6 L101 263 L103.3 262.3 L105.9 264.6 L106.5 269.7" stroke="#1b14f4" stroke-width="1.8" stroke-opacity="0.6"/>
<path d="M106.5 269.7 L109.7 267.8 L113.6 265.9" stroke="#1b14f4" stroke-width="1.8" stroke-opacity="0.6"/>
<path d="M132.5 255.6 L132.5 269.7" stroke="#1b14f4" stroke-dasharray="1.2 2.2" stroke-width="2.1" stroke-opacity="0.6"/>
<path d="M197.1 274.9 L197.7 265.9 L198.4 261.4 L199.7 260.1 L201 262 L201.3 269.7 L201.6 277.5" stroke="#1b14f4" stroke-width="1.8" stroke-opacity="0.6"/>
<path d="M239.8 269.7 L241.1 262 L243 255.6 L245.6 253.3 L248.2 254.3" stroke="#1b14f4" stroke-width="1.8" stroke-opacity="0.6"/>
<path d="M41.5 282.6 L47.7 282.4" stroke="#1b14f4" stroke-width="1.8" stroke-opacity="0.6"/>
<path d="M56.7 285.5 L61.2 288.4" stroke="#1b14f4" stroke-width="1.8" stroke-opacity="0.6"/>
<path d="M149.2 310.3 L151.8 312.9 L152.5 317.4" stroke="#1b14f4" stroke-width="1.8" stroke-opacity="0.6"/>
<path d="M184.9 309 L188.7 308.4 L193.2 310.9" stroke="#1b14f4" stroke-width="1.8" stroke-opacity="0.6"/>
<path d="M258 319.3 L260.6 320.6" stroke="#1b14f4" stroke-width="1.8" stroke-opacity="0.6"/>
<path d="M260.6 319.3 L264.4 316.7" stroke="#1b14f4" stroke-width="1.8" stroke-opacity="0.6"/>
<path d="M272.2 310.3 L277.3 310.9 L280.5 312.9" stroke="#1b14f4" stroke-width="1.8" stroke-opacity="0.6"/>
<path d="M285.7 311.6 L288.9 313.5 L290.2 319.3" stroke="#1b14f4" stroke-width="1.8" stroke-opacity="0.6"/>
<path d="M43 328.5 L49.5 329.6 L54.2 329" stroke="#1b14f4" stroke-width="1.8" stroke-opacity="0.6"/>
<path d="M86.6 325.7 L90.4 325.7 L96.2 331.5" stroke="#1b14f4" stroke-width="1.8" stroke-opacity="0.6"/>
<path d="M252 333.5 L254.6 329.6 L257.2 321.9 L259.8 319.3" stroke="#1b14f4" stroke-width="1.8" stroke-opacity="0.6"/>
<path d="M290.2 339.9 L290.4 343" stroke="#1b14f4" stroke-width="1.8" stroke-opacity="0.6"/>
<path d="M96.9 348.9 L104.6 351.5" stroke="#1b14f4" stroke-width="1.8" stroke-opacity="0.6"/>
<path d="M138.9 348.3 L143.4 350.8 L147.3 349.5 L151.2 351.5 L155.7 348.9" stroke="#1b14f4" stroke-width="1.8" stroke-opacity="0.6"/>
<path d="M184.2 348.9 L188.7 348.3 L193.2 350.8 L197.7 348.3 L201 350.2" stroke="#1b14f4" stroke-width="1.8" stroke-opacity="0.6"/>
<path d="M276 348.3 L280.5 350.8" stroke="#1b14f4" stroke-width="1.8" stroke-opacity="0.6"/>
<path d="M284.4 349.5 L288.9 352.1 L290.2 355.3" stroke="#1b14f4" stroke-width="1.8" stroke-opacity="0.6"/>
<path d="M106 288 L106 300" stroke="#1b14f4" stroke-dasharray="1.2 2.2" stroke-width="2.1" stroke-opacity="0.6"/>
<path d="M106 326 L106 344" stroke="#1b14f4" stroke-dasharray="1.2 2.2" stroke-width="2.1" stroke-opacity="0.6"/>
<path d="M142.8 300 L142.8 320" stroke="#1b14f4" stroke-dasharray="1.2 2.2" stroke-width="2.1" stroke-opacity="0.6"/>
<path d="M151.8 318 L151.8 345" stroke="#1b14f4" stroke-dasharray="1.2 2.2" stroke-width="2.1" stroke-opacity="0.6"/>
<path d="M118.7 270.4 L122.6 268.5 L126.5 265.2 L129.9 263.9 L132.5 263.3 L136.8 264.3 L143.4 262.7" stroke="#2814f2" stroke-width="2.1" stroke-opacity="0.6"/>
<path d="M175.2 265.9 L177.1 266.5 L179.7 264.6 L182.9 266.5 L184.9 270.4 L186.2 273" stroke="#2814f2" stroke-width="2.1" stroke-opacity="0.6"/>
<path d="M206.7 270.4 L210.6 268.5 L215.8 267.2 L218.6 266.5 L221.8 262.7 L224.4 261.4 L226.9 263.3 L228.9 267.2" stroke="#2814f2" stroke-width="2.1" stroke-opacity="0.6"/>
<path d="M229.5 274.2 L234 274.2 L236.6 275.5" stroke="#2814f2" stroke-width="2.1" stroke-opacity="0.6"/>
<path d="M239.2 278.1 L246.2 278.5" stroke="#2814f2" stroke-width="2.1" stroke-opacity="0.6"/>
<path d="M52.9 285.3 L56.7 285.5" stroke="#2814f2" stroke-width="2.1" stroke-opacity="0.6"/>
<path d="M93 273 L94.3 274.2 L96.2 278.7" stroke="#2814f2" stroke-width="2.1" stroke-opacity="0.6"/>
<path d="M96.9 295.5 L97.5 288.4 L100.1 286.2 L104.6 287.1 L106.1 290.3 L106.5 295.5" stroke="#2814f2" stroke-width="2.1" stroke-opacity="0.6"/>
<path d="M143.4 289 L151.8 288.4" stroke="#2814f2" stroke-width="2.1" stroke-opacity="0.6"/>
<path d="M86.4 304 L87.8 306" stroke="#2814f2" stroke-width="2.1" stroke-opacity="0.6"/>
<path d="M142.8 316.7 L143.2 312.9 L145.4 310.3 L149.2 310.3" stroke="#2814f2" stroke-width="2.1" stroke-opacity="0.6"/>
<path d="M232.1 310.9 L236.6 312.9 L240.5 314.8" stroke="#2814f2" stroke-width="2.1" stroke-opacity="0.6"/>
<path d="M280.9 300.5 L280.9 305" stroke="#2814f2" stroke-width="2.1" stroke-opacity="0.6"/>
<path d="M54.2 329 L59.3 332.2 L62.5 334.7" stroke="#2814f2" stroke-width="2.1" stroke-opacity="0.6"/>
<path d="M137 328.3 L140.9 330.9 L144.1 332.8 L148.6 332.2 L151.8 332.8 L156.3 334.1 L158.2 337.3" stroke="#2814f2" stroke-width="2.1" stroke-opacity="0.6"/>
<path d="M181.7 330.2 L186.2 330.2 L191.3 330.9 L195.8 332.2 L199.7 331.5 L201.6 333.5" stroke="#2814f2" stroke-width="2.1" stroke-opacity="0.6"/>
<path d="M225 330.9 L228.9 332.2 L232.7 332.8 L235.3 334.1" stroke="#2814f2" stroke-width="2.1" stroke-opacity="0.6"/>
<path d="M292.1 332.2 L294.7 333.5" stroke="#2814f2" stroke-width="2.1" stroke-opacity="0.6"/>
<path d="M56.1 348.9 L61.2 352.8" stroke="#2814f2" stroke-width="2.1" stroke-opacity="0.6"/>
<path d="M234 351.5 L237.2 353.4 L241.1 350.8 L245 352.1 L248.2 355.3" stroke="#2814f2" stroke-width="2.1" stroke-opacity="0.6"/>
<path d="M106 306 L106 326" stroke="#2814f2" stroke-dasharray="1.2 2.2" stroke-width="2.4" stroke-opacity="0.6"/>
<path d="M42.3 313 L42.3 316.7" stroke="#2814f2" stroke-width="2.1" stroke-opacity="0.6"/>
<path d="M42.3 327 L42.3 333.5" stroke="#2814f2" stroke-dasharray="1.2 2.2" stroke-width="2.4" stroke-opacity="0.6"/>
<path d="M61.9 312.9 L61.9 316.7" stroke="#2814f2" stroke-width="2.1" stroke-opacity="0.6"/>
<path d="M151.8 336.5 L151.8 339.5" stroke="#2814f2" stroke-width="2.1" stroke-opacity="0.6"/>
<path d="M195.2 303 L195.2 305.5" stroke="#2814f2" stroke-width="2.1" stroke-opacity="0.6"/>
<path d="M195.2 314 L195.2 322" stroke="#2814f2" stroke-dasharray="1.2 2.2" stroke-width="2.4" stroke-opacity="0.6"/>
<path d="M195.2 337.5 L195.2 340" stroke="#2814f2" stroke-width="2.1" stroke-opacity="0.6"/>
<path d="M184.9 335 L184.9 337.5" stroke="#2814f2" stroke-width="2.1" stroke-opacity="0.6"/>
<path d="M250.7 314 L250.7 320" stroke="#2814f2" stroke-width="2.1" stroke-opacity="0.6"/>
<path d="M129 263.6 L135 263.5" stroke="#3c15f0" stroke-width="2.3" stroke-opacity="0.6"/>
<path d="M153.7 273 L157.6 274.2 L160.8 271.7 L163.4 273 L165.3 269.1 L166.6 271.7 L169.2 267.8 L171.8 264.6 L175.2 265.9" stroke="#3c15f0" stroke-width="2.3" stroke-opacity="0.6"/>
<path d="M186.2 273 L189.4 273.3 L195.8 273.6" stroke="#3c15f0" stroke-width="2.3" stroke-opacity="0.6"/>
<path d="M197.1 278.7 L199.7 276.8 L202.9 275.5 L206.7 270.4 L208.7 271.7 L211.9 274.2 L215.8 276.8 L216 278.1 L219.9 280 L223.7 278.5 L227.6 278.1 L232.7 279 L234 279.4" stroke="#3c15f0" stroke-width="2.3" stroke-opacity="0.6"/>
<path d="M47.7 282.6 L49.7 282.5 L50.2 285 L52.9 285.3" stroke="#3c15f0" stroke-width="2.3" stroke-opacity="0.6"/>
<path d="M49.7 281.3 L49.7 286.5" stroke="#3c15f0" stroke-width="2.3" stroke-opacity="0.6"/>
<path d="M80.6 276.5 L81.5 274.3 L83 272.5 L85.5 273.7 L86.6 278.1" stroke="#3c15f0" stroke-width="2.3" stroke-opacity="0.6"/>
<path d="M86.6 278.1 L88.5 274.2 L91.1 272.3 L93 273" stroke="#3c15f0" stroke-width="2.3" stroke-opacity="0.6"/>
<path d="M105.9 302.5 L105.9 306.5" stroke="#3c15f0" stroke-width="2.3" stroke-opacity="0.6"/>
<path d="M100.7 330.2 L103.9 332.2 L106.5 334.1" stroke="#3c15f0" stroke-width="2.3" stroke-opacity="0.6"/>
<path d="M235.3 334.1 L239.8 334.1 L243.7 334.1 L247.5 336 L250.7 337.3" stroke="#3c15f0" stroke-width="2.3" stroke-opacity="0.6"/>
<path d="M272.2 332.8 L276 330.9 L280.5 332.8 L284.4 331.5 L288.2 332.2 L290.2 335.4 L290.2 339.9" stroke="#3c15f0" stroke-width="2.3" stroke-opacity="0.6"/>
<path d="M56.1 348.9 L59.3 342.5" stroke="#3c15f0" stroke-width="2.3" stroke-opacity="0.6"/>
<path d="M50.5 357.5 L54 357.5" stroke="#3c15f0" stroke-width="2.3" stroke-opacity="0.6"/>
<path d="M106 322.5 L106 325" stroke="#3c15f0" stroke-width="2.3" stroke-opacity="0.6"/>
<path d="M252.7 282.6 L255.9 285.8 L258 285.2 L261.9 282 L267 277.5 L272.2 273.9 L274.7 276.8 L280.5 278.5 L285 282.6 L288.9 282.4 L292.7 284.9 L296.6 285.4 L301.8 282.6" stroke="#5716ed" stroke-width="3.1" stroke-opacity="0.6"/>
<path d="M50.3 356.6 L53 352 L56.1 348.9" stroke="#5716ed" stroke-width="3.1" stroke-opacity="0.6"/>
<path d="M86.6 265.9 L88 262 L89.8 260.1 L91.7 259.4 L94 261 L96.2 264.6" stroke="#b91eaa" stroke-width="0.8" stroke-opacity="1"/>
<path d="M107.2 289 L109.7 287.1 L114.2 285.2 L116 287.5" stroke="#b91eaa" stroke-width="0.8" stroke-opacity="1"/>
<path d="M86.6 341.2 L91.7 345 L96.9 348.9" stroke="#b91eaa" stroke-width="0.8" stroke-opacity="1"/>
<path d="M49.6 270 L50.5 266 L52.9 261.6 L56.1 260.5 L59.3 262 L61.2 265.2" stroke="#ea221b" stroke-width="0.95" stroke-opacity="1"/>
<path d="M96.9 268.5 L98.8 264.6 L101 263 L103.3 262.3 L105.9 264.6 L106.5 269.7" stroke="#ea221b" stroke-width="0.95" stroke-opacity="1"/>
<path d="M106.5 269.7 L109.7 267.8 L113.6 265.9" stroke="#ea221b" stroke-width="0.95" stroke-opacity="1"/>
<path d="M132.5 255.6 L132.5 269.7" stroke="#ea221b" stroke-dasharray="1.2 2.2" stroke-width="1.25" stroke-opacity="1"/>
<path d="M197.1 274.9 L197.7 265.9 L198.4 261.4 L199.7 260.1 L201 262 L201.3 269.7 L201.6 277.5" stroke="#ea221b" stroke-width="0.95" stroke-opacity="1"/>
<path d="M239.8 269.7 L241.1 262 L243 255.6 L245.6 253.3 L248.2 254.3" stroke="#ea221b" stroke-width="0.95" stroke-opacity="1"/>
<path d="M41.5 282.6 L47.7 282.4" stroke="#ea221b" stroke-width="0.95" stroke-opacity="1"/>
<path d="M56.7 285.5 L61.2 288.4" stroke="#ea221b" stroke-width="0.95" stroke-opacity="1"/>
<path d="M149.2 310.3 L151.8 312.9 L152.5 317.4" stroke="#ea221b" stroke-width="0.95" stroke-opacity="1"/>
<path d="M184.9 309 L188.7 308.4 L193.2 310.9" stroke="#ea221b" stroke-width="0.95" stroke-opacity="1"/>
<path d="M258 319.3 L260.6 320.6" stroke="#ea221b" stroke-width="0.95" stroke-opacity="1"/>
<path d="M260.6 319.3 L264.4 316.7" stroke="#ea221b" stroke-width="0.95" stroke-opacity="1"/>
<path d="M272.2 310.3 L277.3 310.9 L280.5 312.9" stroke="#ea221b" stroke-width="0.95" stroke-opacity="1"/>
<path d="M285.7 311.6 L288.9 313.5 L290.2 319.3" stroke="#ea221b" stroke-width="0.95" stroke-opacity="1"/>
<path d="M43 328.5 L49.5 329.6 L54.2 329" stroke="#ea221b" stroke-width="0.95" stroke-opacity="1"/>
<path d="M86.6 325.7 L90.4 325.7 L96.2 331.5" stroke="#ea221b" stroke-width="0.95" stroke-opacity="1"/>
<path d="M252 333.5 L254.6 329.6 L257.2 321.9 L259.8 319.3" stroke="#ea221b" stroke-width="0.95" stroke-opacity="1"/>
<path d="M290.2 339.9 L290.4 343" stroke="#ea221b" stroke-width="0.95" stroke-opacity="1"/>
<path d="M96.9 348.9 L104.6 351.5" stroke="#ea221b" stroke-width="0.95" stroke-opacity="1"/>
<path d="M138.9 348.3 L143.4 350.8 L147.3 349.5 L151.2 351.5 L155.7 348.9" stroke="#ea221b" stroke-width="0.95" stroke-opacity="1"/>
<path d="M184.2 348.9 L188.7 348.3 L193.2 350.8 L197.7 348.3 L201 350.2" stroke="#ea221b" stroke-width="0.95" stroke-opacity="1"/>
<path d="M276 348.3 L280.5 350.8" stroke="#ea221b" stroke-width="0.95" stroke-opacity="1"/>
<path d="M284.4 349.5 L288.9 352.1 L290.2 355.3" stroke="#ea221b" stroke-width="0.95" stroke-opacity="1"/>
<path d="M106 288 L106 300" stroke="#ea221b" stroke-dasharray="1.2 2.2" stroke-width="1.25" stroke-opacity="1"/>
<path d="M106 326 L106 344" stroke="#ea221b" stroke-dasharray="1.2 2.2" stroke-width="1.25" stroke-opacity="1"/>
<path d="M142.8 300 L142.8 320" stroke="#ea221b" stroke-dasharray="1.2 2.2" stroke-width="1.25" stroke-opacity="1"/>
<path d="M151.8 318 L151.8 345" stroke="#ea221b" stroke-dasharray="1.2 2.2" stroke-width="1.25" stroke-opacity="1"/>
<path d="M118.7 270.4 L122.6 268.5 L126.5 265.2 L129.9 263.9 L132.5 263.3 L136.8 264.3 L143.4 262.7" stroke="#f03b16" stroke-width="1.2" stroke-opacity="1"/>
<path d="M175.2 265.9 L177.1 266.5 L179.7 264.6 L182.9 266.5 L184.9 270.4 L186.2 273" stroke="#f03b16" stroke-width="1.2" stroke-opacity="1"/>
<path d="M206.7 270.4 L210.6 268.5 L215.8 267.2 L218.6 266.5 L221.8 262.7 L224.4 261.4 L226.9 263.3 L228.9 267.2" stroke="#f03b16" stroke-width="1.2" stroke-opacity="1"/>
<path d="M229.5 274.2 L234 274.2 L236.6 275.5" stroke="#f03b16" stroke-width="1.2" stroke-opacity="1"/>
<path d="M239.2 278.1 L246.2 278.5" stroke="#f03b16" stroke-width="1.2" stroke-opacity="1"/>
<path d="M52.9 285.3 L56.7 285.5" stroke="#f03b16" stroke-width="1.2" stroke-opacity="1"/>
<path d="M93 273 L94.3 274.2 L96.2 278.7" stroke="#f03b16" stroke-width="1.2" stroke-opacity="1"/>
<path d="M96.9 295.5 L97.5 288.4 L100.1 286.2 L104.6 287.1 L106.1 290.3 L106.5 295.5" stroke="#f03b16" stroke-width="1.2" stroke-opacity="1"/>
<path d="M143.4 289 L151.8 288.4" stroke="#f03b16" stroke-width="1.2" stroke-opacity="1"/>
<path d="M86.4 304 L87.8 306" stroke="#f03b16" stroke-width="1.2" stroke-opacity="1"/>
<path d="M142.8 316.7 L143.2 312.9 L145.4 310.3 L149.2 310.3" stroke="#f03b16" stroke-width="1.2" stroke-opacity="1"/>
<path d="M232.1 310.9 L236.6 312.9 L240.5 314.8" stroke="#f03b16" stroke-width="1.2" stroke-opacity="1"/>
<path d="M280.9 300.5 L280.9 305" stroke="#f03b16" stroke-width="1.2" stroke-opacity="1"/>
<path d="M54.2 329 L59.3 332.2 L62.5 334.7" stroke="#f03b16" stroke-width="1.2" stroke-opacity="1"/>
<path d="M137 328.3 L140.9 330.9 L144.1 332.8 L148.6 332.2 L151.8 332.8 L156.3 334.1 L158.2 337.3" stroke="#f03b16" stroke-width="1.2" stroke-opacity="1"/>
<path d="M181.7 330.2 L186.2 330.2 L191.3 330.9 L195.8 332.2 L199.7 331.5 L201.6 333.5" stroke="#f03b16" stroke-width="1.2" stroke-opacity="1"/>
<path d="M225 330.9 L228.9 332.2 L232.7 332.8 L235.3 334.1" stroke="#f03b16" stroke-width="1.2" stroke-opacity="1"/>
<path d="M292.1 332.2 L294.7 333.5" stroke="#f03b16" stroke-width="1.2" stroke-opacity="1"/>
<path d="M56.1 348.9 L61.2 352.8" stroke="#f03b16" stroke-width="1.2" stroke-opacity="1"/>
<path d="M234 351.5 L237.2 353.4 L241.1 350.8 L245 352.1 L248.2 355.3" stroke="#f03b16" stroke-width="1.2" stroke-opacity="1"/>
<path d="M106 306 L106 326" stroke="#f03b16" stroke-dasharray="1.2 2.2" stroke-width="1.5" stroke-opacity="1"/>
<path d="M42.3 313 L42.3 316.7" stroke="#f03b16" stroke-width="1.2" stroke-opacity="1"/>
<path d="M42.3 327 L42.3 333.5" stroke="#f03b16" stroke-dasharray="1.2 2.2" stroke-width="1.5" stroke-opacity="1"/>
<path d="M61.9 312.9 L61.9 316.7" stroke="#f03b16" stroke-width="1.2" stroke-opacity="1"/>
<path d="M151.8 336.5 L151.8 339.5" stroke="#f03b16" stroke-width="1.2" stroke-opacity="1"/>
<path d="M195.2 303 L195.2 305.5" stroke="#f03b16" stroke-width="1.2" stroke-opacity="1"/>
<path d="M195.2 314 L195.2 322" stroke="#f03b16" stroke-dasharray="1.2 2.2" stroke-width="1.5" stroke-opacity="1"/>
<path d="M195.2 337.5 L195.2 340" stroke="#f03b16" stroke-width="1.2" stroke-opacity="1"/>
<path d="M184.9 335 L184.9 337.5" stroke="#f03b16" stroke-width="1.2" stroke-opacity="1"/>
<path d="M250.7 314 L250.7 320" stroke="#f03b16" stroke-width="1.2" stroke-opacity="1"/>
<path d="M129 263.6 L135 263.5" stroke="#f65311" stroke-width="1.5" stroke-opacity="1"/>
<path d="M153.7 273 L157.6 274.2 L160.8 271.7 L163.4 273 L165.3 269.1 L166.6 271.7 L169.2 267.8 L171.8 264.6 L175.2 265.9" stroke="#f65311" stroke-width="1.5" stroke-opacity="1"/>
<path d="M186.2 273 L189.4 273.3 L195.8 273.6" stroke="#f65311" stroke-width="1.5" stroke-opacity="1"/>
<path d="M197.1 278.7 L199.7 276.8 L202.9 275.5 L206.7 270.4 L208.7 271.7 L211.9 274.2 L215.8 276.8 L216 278.1 L219.9 280 L223.7 278.5 L227.6 278.1 L232.7 279 L234 279.4" stroke="#f65311" stroke-width="1.5" stroke-opacity="1"/>
<path d="M47.7 282.6 L49.7 282.5 L50.2 285 L52.9 285.3" stroke="#f65311" stroke-width="1.5" stroke-opacity="1"/>
<path d="M49.7 281.3 L49.7 286.5" stroke="#f65311" stroke-width="1.5" stroke-opacity="1"/>
<path d="M80.6 276.5 L81.5 274.3 L83 272.5 L85.5 273.7 L86.6 278.1" stroke="#f65311" stroke-width="1.5" stroke-opacity="1"/>
<path d="M86.6 278.1 L88.5 274.2 L91.1 272.3 L93 273" stroke="#f65311" stroke-width="1.5" stroke-opacity="1"/>
<path d="M105.9 302.5 L105.9 306.5" stroke="#f65311" stroke-width="1.5" stroke-opacity="1"/>
<path d="M100.7 330.2 L103.9 332.2 L106.5 334.1" stroke="#f65311" stroke-width="1.5" stroke-opacity="1"/>
<path d="M235.3 334.1 L239.8 334.1 L243.7 334.1 L247.5 336 L250.7 337.3" stroke="#f65311" stroke-width="1.5" stroke-opacity="1"/>
<path d="M272.2 332.8 L276 330.9 L280.5 332.8 L284.4 331.5 L288.2 332.2 L290.2 335.4 L290.2 339.9" stroke="#f65311" stroke-width="1.5" stroke-opacity="1"/>
<path d="M56.1 348.9 L59.3 342.5" stroke="#f65311" stroke-width="1.5" stroke-opacity="1"/>
<path d="M50.5 357.5 L54 357.5" stroke="#f65311" stroke-width="1.5" stroke-opacity="1"/>
<path d="M106 322.5 L106 325" stroke="#f65311" stroke-width="1.5" stroke-opacity="1"/>
<path d="M252.7 282.6 L255.9 285.8 L258 285.2 L261.9 282 L267 277.5 L272.2 273.9 L274.7 276.8 L280.5 278.5 L285 282.6 L288.9 282.4 L292.7 284.9 L296.6 285.4 L301.8 282.6" stroke="#fc6c0c" stroke-width="2.5" stroke-opacity="1"/>
<path d="M50.3 356.6 L53 352 L56.1 348.9" stroke="#fc6c0c" stroke-width="2.5" stroke-opacity="1"/>
<path d="M118.7 270.4 L122.6 268.5 L126.5 265.2 L129.9 263.9 L132.5 263.3 L136.8 264.3 L143.4 262.7" stroke="#ffb425" stroke-width="0.6" stroke-opacity="1"/>
<path d="M175.2 265.9 L177.1 266.5 L179.7 264.6 L182.9 266.5 L184.9 270.4 L186.2 273" stroke="#ffb425" stroke-width="0.6" stroke-opacity="1"/>
<path d="M206.7 270.4 L210.6 268.5 L215.8 267.2 L218.6 266.5 L221.8 262.7 L224.4 261.4 L226.9 263.3 L228.9 267.2" stroke="#ffb425" stroke-width="0.6" stroke-opacity="1"/>
<path d="M229.5 274.2 L234 274.2 L236.6 275.5" stroke="#ffb425" stroke-width="0.6" stroke-opacity="1"/>
<path d="M239.2 278.1 L246.2 278.5" stroke="#ffb425" stroke-width="0.6" stroke-opacity="1"/>
<path d="M52.9 285.3 L56.7 285.5" stroke="#ffb425" stroke-width="0.6" stroke-opacity="1"/>
<path d="M93 273 L94.3 274.2 L96.2 278.7" stroke="#ffb425" stroke-width="0.6" stroke-opacity="1"/>
<path d="M96.9 295.5 L97.5 288.4 L100.1 286.2 L104.6 287.1 L106.1 290.3 L106.5 295.5" stroke="#ffb425" stroke-width="0.6" stroke-opacity="1"/>
<path d="M143.4 289 L151.8 288.4" stroke="#ffb425" stroke-width="0.6" stroke-opacity="1"/>
<path d="M86.4 304 L87.8 306" stroke="#ffb425" stroke-width="0.6" stroke-opacity="1"/>
<path d="M142.8 316.7 L143.2 312.9 L145.4 310.3 L149.2 310.3" stroke="#ffb425" stroke-width="0.6" stroke-opacity="1"/>
<path d="M232.1 310.9 L236.6 312.9 L240.5 314.8" stroke="#ffb425" stroke-width="0.6" stroke-opacity="1"/>
<path d="M280.9 300.5 L280.9 305" stroke="#ffb425" stroke-width="0.6" stroke-opacity="1"/>
<path d="M54.2 329 L59.3 332.2 L62.5 334.7" stroke="#ffb425" stroke-width="0.6" stroke-opacity="1"/>
<path d="M137 328.3 L140.9 330.9 L144.1 332.8 L148.6 332.2 L151.8 332.8 L156.3 334.1 L158.2 337.3" stroke="#ffb425" stroke-width="0.6" stroke-opacity="1"/>
<path d="M181.7 330.2 L186.2 330.2 L191.3 330.9 L195.8 332.2 L199.7 331.5 L201.6 333.5" stroke="#ffb425" stroke-width="0.6" stroke-opacity="1"/>
<path d="M225 330.9 L228.9 332.2 L232.7 332.8 L235.3 334.1" stroke="#ffb425" stroke-width="0.6" stroke-opacity="1"/>
<path d="M292.1 332.2 L294.7 333.5" stroke="#ffb425" stroke-width="0.6" stroke-opacity="1"/>
<path d="M56.1 348.9 L61.2 352.8" stroke="#ffb425" stroke-width="0.6" stroke-opacity="1"/>
<path d="M234 351.5 L237.2 353.4 L241.1 350.8 L245 352.1 L248.2 355.3" stroke="#ffb425" stroke-width="0.6" stroke-opacity="1"/>
<path d="M106 306 L106 326" stroke="#ffb425" stroke-dasharray="1.2 2.2" stroke-width="0.8999999999999999" stroke-opacity="1"/>
<path d="M42.3 313 L42.3 316.7" stroke="#ffb425" stroke-width="0.6" stroke-opacity="1"/>
<path d="M42.3 327 L42.3 333.5" stroke="#ffb425" stroke-dasharray="1.2 2.2" stroke-width="0.8999999999999999" stroke-opacity="1"/>
<path d="M61.9 312.9 L61.9 316.7" stroke="#ffb425" stroke-width="0.6" stroke-opacity="1"/>
<path d="M151.8 336.5 L151.8 339.5" stroke="#ffb425" stroke-width="0.6" stroke-opacity="1"/>
<path d="M195.2 303 L195.2 305.5" stroke="#ffb425" stroke-width="0.6" stroke-opacity="1"/>
<path d="M195.2 314 L195.2 322" stroke="#ffb425" stroke-dasharray="1.2 2.2" stroke-width="0.8999999999999999" stroke-opacity="1"/>
<path d="M195.2 337.5 L195.2 340" stroke="#ffb425" stroke-width="0.6" stroke-opacity="1"/>
<path d="M184.9 335 L184.9 337.5" stroke="#ffb425" stroke-width="0.6" stroke-opacity="1"/>
<path d="M250.7 314 L250.7 320" stroke="#ffb425" stroke-width="0.6" stroke-opacity="1"/>
<path d="M129 263.6 L135 263.5" stroke="#ffd232" stroke-width="0.95" stroke-opacity="1"/>
<path d="M153.7 273 L157.6 274.2 L160.8 271.7 L163.4 273 L165.3 269.1 L166.6 271.7 L169.2 267.8 L171.8 264.6 L175.2 265.9" stroke="#ffd232" stroke-width="0.95" stroke-opacity="1"/>
<path d="M186.2 273 L189.4 273.3 L195.8 273.6" stroke="#ffd232" stroke-width="0.95" stroke-opacity="1"/>
<path d="M197.1 278.7 L199.7 276.8 L202.9 275.5 L206.7 270.4 L208.7 271.7 L211.9 274.2 L215.8 276.8 L216 278.1 L219.9 280 L223.7 278.5 L227.6 278.1 L232.7 279 L234 279.4" stroke="#ffd232" stroke-width="0.95" stroke-opacity="1"/>
<path d="M47.7 282.6 L49.7 282.5 L50.2 285 L52.9 285.3" stroke="#ffd232" stroke-width="0.95" stroke-opacity="1"/>
<path d="M49.7 281.3 L49.7 286.5" stroke="#ffd232" stroke-width="0.95" stroke-opacity="1"/>
<path d="M80.6 276.5 L81.5 274.3 L83 272.5 L85.5 273.7 L86.6 278.1" stroke="#ffd232" stroke-width="0.95" stroke-opacity="1"/>
<path d="M86.6 278.1 L88.5 274.2 L91.1 272.3 L93 273" stroke="#ffd232" stroke-width="0.95" stroke-opacity="1"/>
<path d="M105.9 302.5 L105.9 306.5" stroke="#ffd232" stroke-width="0.95" stroke-opacity="1"/>
<path d="M100.7 330.2 L103.9 332.2 L106.5 334.1" stroke="#ffd232" stroke-width="0.95" stroke-opacity="1"/>
<path d="M235.3 334.1 L239.8 334.1 L243.7 334.1 L247.5 336 L250.7 337.3" stroke="#ffd232" stroke-width="0.95" stroke-opacity="1"/>
<path d="M272.2 332.8 L276 330.9 L280.5 332.8 L284.4 331.5 L288.2 332.2 L290.2 335.4 L290.2 339.9" stroke="#ffd232" stroke-width="0.95" stroke-opacity="1"/>
<path d="M56.1 348.9 L59.3 342.5" stroke="#ffd232" stroke-width="0.95" stroke-opacity="1"/>
<path d="M50.5 357.5 L54 357.5" stroke="#ffd232" stroke-width="0.95" stroke-opacity="1"/>
<path d="M106 322.5 L106 325" stroke="#ffd232" stroke-width="0.95" stroke-opacity="1"/>
<path d="M252.7 282.6 L255.9 285.8 L258 285.2 L261.9 282 L267 277.5 L272.2 273.9 L274.7 276.8 L280.5 278.5 L285 282.6 L288.9 282.4 L292.7 284.9 L296.6 285.4 L301.8 282.6" stroke="#ffd232" stroke-width="1.9" stroke-opacity="1"/>
<path d="M50.3 356.6 L53 352 L56.1 348.9" stroke="#ffd232" stroke-width="1.9" stroke-opacity="1"/>
<path d="M129 263.6 L135 263.5" stroke="#ffffe6" stroke-width="0.45" stroke-opacity="1"/>
<path d="M153.7 273 L157.6 274.2 L160.8 271.7 L163.4 273 L165.3 269.1 L166.6 271.7 L169.2 267.8 L171.8 264.6 L175.2 265.9" stroke="#ffffe6" stroke-width="0.45" stroke-opacity="1"/>
<path d="M186.2 273 L189.4 273.3 L195.8 273.6" stroke="#ffffe6" stroke-width="0.45" stroke-opacity="1"/>
<path d="M197.1 278.7 L199.7 276.8 L202.9 275.5 L206.7 270.4 L208.7 271.7 L211.9 274.2 L215.8 276.8 L216 278.1 L219.9 280 L223.7 278.5 L227.6 278.1 L232.7 279 L234 279.4" stroke="#ffffe6" stroke-width="0.45" stroke-opacity="1"/>
<path d="M47.7 282.6 L49.7 282.5 L50.2 285 L52.9 285.3" stroke="#ffffe6" stroke-width="0.45" stroke-opacity="1"/>
<path d="M49.7 281.3 L49.7 286.5" stroke="#ffffe6" stroke-width="0.45" stroke-opacity="1"/>
<path d="M80.6 276.5 L81.5 274.3 L83 272.5 L85.5 273.7 L86.6 278.1" stroke="#ffffe6" stroke-width="0.45" stroke-opacity="1"/>
<path d="M86.6 278.1 L88.5 274.2 L91.1 272.3 L93 273" stroke="#ffffe6" stroke-width="0.45" stroke-opacity="1"/>
<path d="M105.9 302.5 L105.9 306.5" stroke="#ffffe6" stroke-width="0.45" stroke-opacity="1"/>
<path d="M100.7 330.2 L103.9 332.2 L106.5 334.1" stroke="#ffffe6" stroke-width="0.45" stroke-opacity="1"/>
<path d="M235.3 334.1 L239.8 334.1 L243.7 334.1 L247.5 336 L250.7 337.3" stroke="#ffffe6" stroke-width="0.45" stroke-opacity="1"/>
<path d="M272.2 332.8 L276 330.9 L280.5 332.8 L284.4 331.5 L288.2 332.2 L290.2 335.4 L290.2 339.9" stroke="#ffffe6" stroke-width="0.45" stroke-opacity="1"/>
<path d="M56.1 348.9 L59.3 342.5" stroke="#ffffe6" stroke-width="0.45" stroke-opacity="1"/>
<path d="M50.5 357.5 L54 357.5" stroke="#ffffe6" stroke-width="0.45" stroke-opacity="1"/>
<path d="M106 322.5 L106 325" stroke="#ffffe6" stroke-width="0.45" stroke-opacity="1"/>
<path d="M252.7 282.6 L255.9 285.8 L258 285.2 L261.9 282 L267 277.5 L272.2 273.9 L274.7 276.8 L280.5 278.5 L285 282.6 L288.9 282.4 L292.7 284.9 L296.6 285.4 L301.8 282.6" stroke="#ffffff" stroke-width="1.25" stroke-opacity="1"/>
<path d="M50.3 356.6 L53 352 L56.1 348.9" stroke="#ffffff" stroke-width="1.25" stroke-opacity="1"/>
</g>
<g filter="url(#bl)">
<ellipse cx="55.8" cy="349.2" rx="3.4" ry="4.2" fill="#f34714"/>
<ellipse cx="55.8" cy="349.2" rx="2.5" ry="3.2" fill="#ffc32b"/>
<ellipse cx="55.9" cy="349.0" rx="1.5" ry="2.0" fill="#ffffe6"/>
<ellipse cx="52.3" cy="356.8" rx="3.2" ry="1.8" fill="#ff8711"/>
<ellipse cx="52.0" cy="357.2" rx="2.0" ry="1.0" fill="#ffe88c"/>
<ellipse cx="49.7" cy="283.8" rx="1.5" ry="2.8" fill="#ff9617"/>
<ellipse cx="49.7" cy="283.8" rx="0.8" ry="1.8" fill="#ffffe6"/>
<ellipse cx="132.5" cy="263.3" rx="2.0" ry="1.2" fill="#ffe88c"/>
<ellipse cx="105.9" cy="304.3" rx="1.2" ry="1.8" fill="#ffe88c"/>
<ellipse cx="87.2" cy="305.6" rx="1.6" ry="1.3" fill="#ffd232"/>
<ellipse cx="280.9" cy="302.8" rx="1.1" ry="2.2" fill="#ffc32b"/>
</g>
<rect x="41.0" y="243.6" width="0.9" height="115" fill="#d8d8d8"/>
<rect x="143.85" y="243.6" width="3.0" height="115" fill="#b07cb8"/><rect x="144.7" y="243.6" width="1.3" height="115" fill="#f0e0f2"/>
<rect x="189.0" y="243.6" width="3.8" height="115" fill="#9cc0c0"/><rect x="189.5" y="243.6" width="2.8" height="115" fill="#62a4a4"/>
<rect x="235.0" y="243.6" width="3.6" height="115" fill="#e4ece4"/><rect x="235.95" y="243.6" width="1.7" height="115" fill="#1f7f1f"/>
</g>
<rect x="40.3" y="363.6" width="261.9" height="115.8" fill="#000"/>
<g clip-path="url(#cpd)">
<g filter="url(#bl2)">
<rect x="42" y="406.5" width="5.6" height="1.6" fill="#05053c"/>
<rect x="59" y="407.5" width="6" height="1.6" fill="#05053c"/>
<rect x="96" y="411.4" width="7.6" height="1.6" fill="#05053c"/>
<rect x="44" y="437.7" width="6" height="1.6" fill="#05053c"/>
<rect x="66" y="438.5" width="8" height="1.6" fill="#05053c"/>
<rect x="106" y="438.2" width="14" height="1.6" fill="#05053c"/>
<rect x="140" y="438.0" width="12" height="1.6" fill="#05053c"/>
<rect x="150" y="422.2" width="7" height="1.6" fill="#05053c"/>
<rect x="198" y="437.7" width="14" height="1.6" fill="#05053c"/>
<rect x="225" y="437.9" width="20" height="1.6" fill="#05053c"/>
<rect x="278" y="431.2" width="6" height="1.6" fill="#05053c"/>
<rect x="289" y="437.7" width="9" height="1.6" fill="#05053c"/>
<rect x="258" y="438.2" width="8" height="1.6" fill="#05053c"/>
<rect x="276" y="437.7" width="6" height="1.6" fill="#05053c"/>
<ellipse cx="132.5" cy="383.8" rx="9.97" ry="2.1" fill="#1414e0" fill-opacity="1"/>
<ellipse cx="148.5" cy="386.5" rx="5.78" ry="1.86" fill="#1414e0" fill-opacity="1"/>
<ellipse cx="160" cy="392.9" rx="9.97" ry="2.1" fill="#1414e0" fill-opacity="1"/>
<ellipse cx="175.5" cy="385.5" rx="9.97" ry="1.74" fill="#1414e0" fill-opacity="1"/>
<ellipse cx="191" cy="392.9" rx="9.97" ry="2.04" fill="#1414e0" fill-opacity="1"/>
<ellipse cx="207.5" cy="394.4" rx="10.5" ry="1.56" fill="#1414e0" fill-opacity="0.85"/>
<ellipse cx="207.4" cy="390.5" rx="5.25" ry="1.4" fill="#1414e0" fill-opacity="0.72"/>
<ellipse cx="220" cy="387.1" rx="6.3" ry="1.38" fill="#1414e0" fill-opacity="0.7"/>
<ellipse cx="226" cy="383.2" rx="3.68" ry="1.44" fill="#1414e0" fill-opacity="0.75"/>
<ellipse cx="233.5" cy="394.8" rx="4.73" ry="1.56" fill="#1414e0" fill-opacity="0.85"/>
<ellipse cx="240" cy="398.3" rx="4.73" ry="1.2" fill="#1414e0" fill-opacity="0.55"/>
<ellipse cx="273" cy="397.7" rx="11.03" ry="1.4" fill="#1414e0" fill-opacity="0.72"/>
<ellipse cx="259" cy="406" rx="6.83" ry="1.5" fill="#1414e0" fill-opacity="0.8"/>
<ellipse cx="287" cy="402.6" rx="6.83" ry="1.5" fill="#1414e0" fill-opacity="0.8"/>
<ellipse cx="119.3" cy="390" rx="3.15" ry="1.2" fill="#1414e0" fill-opacity="0.55"/>
<ellipse cx="81.5" cy="394.8" rx="3.15" ry="1.2" fill="#1414e0" fill-opacity="0.55"/>
<ellipse cx="51" cy="384.8" rx="2.1" ry="1.14" fill="#1414e0" fill-opacity="0.5"/>
<ellipse cx="221.8" cy="400.6" rx="3.15" ry="1.14" fill="#1414e0" fill-opacity="0.5"/>
<ellipse cx="132.5" cy="383.8" rx="6.84" ry="1.2" fill="#a818c0"/>
<ellipse cx="148.5" cy="386.5" rx="3.5" ry="1.08" fill="#a818c0"/>
<ellipse cx="160" cy="392.9" rx="6.84" ry="1.2" fill="#a818c0"/>
<ellipse cx="175.5" cy="385.5" rx="5.64" ry="1.02" fill="#a818c0"/>
<ellipse cx="191" cy="392.9" rx="6.64" ry="1.17" fill="#a818c0"/>
<ellipse cx="207.5" cy="394.4" rx="5.31" ry="0.93" fill="#a818c0"/>
<ellipse cx="207.4" cy="390.5" rx="2.38" ry="0.85" fill="#a818c0"/>
<ellipse cx="220" cy="387.1" rx="2.81" ry="0.84" fill="#a818c0"/>
<ellipse cx="226" cy="383.2" rx="1.71" ry="0.87" fill="#a818c0"/>
<ellipse cx="233.5" cy="394.8" rx="2.39" ry="0.93" fill="#a818c0"/>
<ellipse cx="273" cy="397.7" rx="5" ry="0.85" fill="#a818c0"/>
<ellipse cx="259" cy="406" rx="3.31" ry="0.9" fill="#a818c0"/>
<ellipse cx="287" cy="402.6" rx="3.31" ry="0.9" fill="#a818c0"/>
<ellipse cx="132.5" cy="383.8" rx="5.23" ry="0.85" fill="#f0302a"/>
<ellipse cx="148.5" cy="386.5" rx="2.53" ry="0.76" fill="#f0302a"/>
<ellipse cx="160" cy="392.9" rx="5.23" ry="0.85" fill="#f0302a"/>
<ellipse cx="175.5" cy="385.5" rx="3.94" ry="0.72" fill="#f0302a"/>
<ellipse cx="191" cy="392.9" rx="5.01" ry="0.83" fill="#f0302a"/>
<ellipse cx="207.5" cy="394.4" rx="3.48" ry="0.65" fill="#f0302a"/>
<ellipse cx="233.5" cy="394.8" rx="1.56" ry="0.65" fill="#f0302a"/>
<ellipse cx="259" cy="406" rx="2.11" ry="0.62" fill="#f0302a"/>
<ellipse cx="287" cy="402.6" rx="2.11" ry="0.62" fill="#f0302a"/>
<ellipse cx="132.5" cy="383.8" rx="3.99" ry="0.65" fill="#ffc030"/>
<ellipse cx="148.5" cy="386.5" rx="1.85" ry="0.65" fill="#ffc030"/>
<ellipse cx="160" cy="392.9" rx="3.99" ry="0.65" fill="#ffc030"/>
<ellipse cx="191" cy="392.9" rx="3.79" ry="0.65" fill="#ffc030"/>
<ellipse cx="132.5" cy="383.8" rx="2.85" ry="0.5" fill="#fffbe8"/>
<ellipse cx="160" cy="392.9" rx="2.85" ry="0.5" fill="#fffbe8"/>
<ellipse cx="191" cy="392.9" rx="2.71" ry="0.5" fill="#fffbe8"/>
<rect x="290.5" y="403.4" width="12" height="2.8" fill="#1414e0"/><rect x="293" y="403.9" width="9.5" height="1.9" fill="#e8302a"/><rect x="296.5" y="404.0" width="6" height="1.7" fill="#ff8a10"/><rect x="299.3" y="404.1" width="3" height="1.5" fill="#ffd030"/>
<ellipse cx="275.3" cy="397.6" rx="1.6" ry="1.0" fill="#ff9a20"/>
</g>
<path d="M40.9 401.19 L42.2 401.42 L43.5 402.04 L44.8 401.67 L46.1 401.97 L47.4 401.65 L48.7 401.24 L50 400.27 L51.3 398.05 L52.6 396.14 L53.9 393.64 L55.2 392.27 L56.5 389.66 L57.8 388.18 L59.1 387.24 L60.4 386.71 L61.7 386.3 L63 387 L64.3 388.24 L65.6 389.58 L66.9 390.77 L68.2 391.53 L69.5 391.18 L70.8 390.81 L72.1 389.11 L73.4 387.51 L74.7 386.92 L76 386.88 L77.3 387.65 L78.6 388.48 L79.9 389.68 L81.2 391.26 L82.5 393.09 L83.8 394.93 L85.1 397.86 L86.4 400.16 L87.7 402.69 L89 404.52 L90.3 406.77 L91.6 408.59 L92.9 409.21 L94.2 408.11 L95.5 406.29 L96.8 404.19 L98.1 402.5 L99.4 400.18 L100.7 398.61 L102 396.82 L103.3 394.93 L104.6 393.08 L105.9 390.81 L107.2 388.62 L108.5 386.86 L109.8 385.93 L111.1 384.21 L112.4 383.67 L113.7 383.06 L115 383.25 L116.3 383.78 L117.6 383.94 L118.9 385.21 L120.2 386.13 L121.5 387.15 L122.8 387.9 L124.1 389.29 L125.4 389.39 L126.7 389.79 L128 389.7 L129.3 390.49 L130.6 390.9 L131.9 391.12 L133.2 392.07 L134.5 393.97 L135.8 395.21 L137.1 396.97 L138.4 398.34 L139.7 400.69 L141 402.16 L142.3 402.34 L143.6 400.71 L144.9 400.15 L146.2 399.01 L147.5 399.02 L148.8 398.93 L150.1 398.8 L151.4 398.14 L152.7 397.38 L154 396.51 L155.3 395.98 L156.6 394.42 L157.9 393.4 L159.2 392.96 L160.5 391.54 L161.8 390.89 L163.1 390.02 L164.4 387.88 L165.7 387.44 L167 386.54 L168.3 387.33 L169.6 387.9 L170.9 388.85 L172.2 389.87 L173.5 390.39 L174.8 391.95 L176.1 394.23 L177.4 395.99 L178.7 396.88 L180 398.55 L181.3 399.29 L182.6 400.72 L183.9 402.24 L185.2 402.81 L186.5 402.81 L187.8 402.33 L189.1 402.28 L190.4 401.7 L191.7 400.75 L193 400.97 L194.3 400.12 L195.6 398.65 L196.9 396.71 L198.2 394.5 L199.5 392.22 L200.8 390.24 L202.1 387.9 L203.4 385.47 L204.7 384.5 L206 384.11 L207.3 384.56 L208.6 385.31 L209.9 387.53 L211.2 389.8 L212.5 392.47 L213.8 393.87 L215.1 393.97 L216.4 393.48 L217.7 393.47 L219 393.5 L220.3 393.04 L221.6 393.23 L222.9 392.84 L224.2 392.58 L225.5 392.56 L226.8 392.62 L228.1 393.1 L229.4 393.3 L230.7 394.22 L232 394.87 L233.3 395.98 L234.6 396.33 L235.9 394.16 L237.2 391.1 L238.5 389.64 L239.8 390.02 L241.1 389.95 L242.4 389.86 L243.7 390.62 L245 391.43 L246.3 394.59 L247.6 396.55 L248.9 394.36 L250.2 391.48 L251.5 390.42 L252.8 390.38 L254.1 389.78 L255.4 390.06 L256.7 390.56 L258 390.45 L259.3 391.13 L260.6 391.26 L261.9 392.59 L263.2 393.18 L264.5 393.94 L265.8 394.6 L267.1 396.5 L268.4 397.06 L269.7 399.03 L271 401.47 L272.3 402.99 L273.6 405.37 L274.9 407.79 L276.2 408.45 L277.5 406.36 L278.8 404.27 L280.1 401.46 L281.4 399.77 L282.7 397.57 L284 397.5 L285.3 396.99 L286.6 396.39 L287.9 397.49 L289.2 397.46 L290.5 397.66 L291.8 397.11 L293.1 394.68 L294.4 392.22 L295.7 391.11 L297 391.52 L298.3 391.79 L299.6 391.6 L300.9 390.81" fill="none" stroke="#1c7a1c" stroke-width="1.0" stroke-dasharray="3.2 1.8"/>
<path d="M40.9 392.64 L42.2 392.92 L43.5 393.15 L44.8 393.88 L46.1 393.44 L47.4 393.42 L48.7 392.63 L50 391.52 L51.3 388.81 L52.6 386.83 L53.9 384.02 L55.2 382.73 L56.5 381.41 L57.8 380.04 L59.1 378.39 L60.4 377.35 L61.7 377.64 L63 378.14 L64.3 379.01 L65.6 380 L66.9 381.49 L68.2 382.13 L69.5 382.23 L70.8 381.72 L72.1 379.89 L73.4 378.63 L74.7 378.43 L76 378.21 L77.3 379.61 L78.6 380.51 L79.9 381.36 L81.2 382.89 L82.5 383.92 L83.8 386.19 L85.1 389.23 L86.4 391.48 L87.7 393.68 L89 395.69 L90.3 397.96 L91.6 399.76 L92.9 400.44 L94.2 399.08 L95.5 397.26 L96.8 395.03 L98.1 393.03 L99.4 391.65 L100.7 389.95 L102 387.52 L103.3 385.73 L104.6 384.11 L105.9 381.78 L107.2 380.32 L108.5 378.51 L109.8 376.94 L111.1 376.28 L112.4 375.25 L113.7 374.34 L115 374.17 L116.3 374.77 L117.6 375.23 L118.9 376.61 L120.2 376.79 L121.5 378.13 L122.8 379.18 L124.1 380.51 L125.4 381.02 L126.7 381.1 L128 380.75 L129.3 381.78 L130.6 381.57 L131.9 382.59 L133.2 384.07 L134.5 385.36 L135.8 386.23 L137.1 388.56 L138.4 389.67 L139.7 391.62 L141 392.47 L142.3 392.54 L143.6 392.08 L144.9 391.18 L146.2 390.48 L147.5 390 L148.8 389.36 L150.1 389.39 L151.4 388.38 L152.7 388.55 L154 387.83 L155.3 387.04 L156.6 385.18 L157.9 384.33 L159.2 383.38 L160.5 381.82 L161.8 381.22 L163.1 380.06 L164.4 379.37 L165.7 379.69 L167 379.72 L168.3 379.34 L169.6 380.51 L170.9 380.93 L172.2 382.24 L173.5 382.98 L174.8 384.34 L176.1 386.69 L177.4 388.09 L178.7 389.75 L180 390.36 L181.3 392.08 L182.6 393.01 L183.9 393.32 L185.2 393.52 L186.5 393.54 L187.8 393.94 L189.1 393.4 L190.4 393.13 L191.7 392.24 L193 392.16 L194.3 391.24 L195.6 390.15 L196.9 388.68 L198.2 386.42 L199.5 385.16 L200.8 382.41 L202.1 380.17 L203.4 377.07 L204.7 374.79 L206 375.34 L207.3 375.88 L208.6 377.99 L209.9 379.79 L211.2 382.51 L212.5 385.18 L213.8 387.24 L215.1 387.4 L216.4 386.73 L217.7 386.69 L219 386.93 L220.3 386.23 L221.6 386.01 L222.9 385.89 L224.2 385.27 L225.5 385.4 L226.8 385.2 L228.1 385.21 L229.4 385.53 L230.7 386.8 L232 387.33 L233.3 388.29 L234.6 388.69 L235.9 386.67 L237.2 382.4 L238.5 381.29 L239.8 380.66 L241.1 381.29 L242.4 381.53 L243.7 381.23 L245 383.27 L246.3 386.14 L247.6 388.34 L248.9 384.84 L250.2 382.11 L251.5 380.7 L252.8 380.05 L254.1 380.19 L255.4 381 L256.7 381.24 L258 381.82 L259.3 382.27 L260.6 382.66 L261.9 383.69 L263.2 384.31 L264.5 385.52 L265.8 386.16 L267.1 387.21 L268.4 389.24 L269.7 390.67 L271 392.04 L272.3 394.38 L273.6 395.95 L274.9 398.27 L276.2 398.45 L277.5 397.18 L278.8 395.25 L280.1 393.21 L281.4 390.85 L282.7 389.2 L284 388.97 L285.3 388.45 L286.6 388.65 L287.9 388.47 L289.2 389.31 L290.5 389.95 L291.8 389.6 L293.1 385.61 L294.4 381.33 L295.7 381.43 L297 382.31 L298.3 383.29 L299.6 384.15 L300.9 383.63" fill="none" stroke="#b8a41e" stroke-width="1.0" stroke-dasharray="3.2 1.8"/>
</g>
<rect x="40.3" y="3.0" width="261.9" height="114.8" fill="none" stroke="#000" stroke-width="1.25"/>
<path d="M69.4 117.8v-5.0M127.6 117.8v-5.0M185.8 117.8v-5.0M244 117.8v-5.0M302.2 117.8v-5.0M40.3 117.8h5.0M40.3 85h5.0M40.3 52.2h5.0M40.3 19.4h5.0M302.2 117.8h-5.0M302.2 79.53h-5.0M302.2 41.27h-5.0M302.2 3h-5.0" stroke="#000" stroke-width="1.2" fill="none"/>
<rect x="40.3" y="123.2" width="261.9" height="115.2" fill="none" stroke="#000" stroke-width="1.25"/>
<path d="M69.4 238.4v-5.0M127.6 238.4v-5.0M185.8 238.4v-5.0M244 238.4v-5.0M302.2 238.4v-5.0M40.3 238.4h5.0M40.3 205.49h5.0M40.3 172.57h5.0M40.3 139.66h5.0M302.2 238.4h-5.0M302.2 215.36h-5.0M302.2 192.32h-5.0M302.2 169.28h-5.0M302.2 146.24h-5.0M302.2 123.2h-5.0" stroke="#000" stroke-width="1.2" fill="none"/>
<rect x="40.3" y="243.6" width="261.9" height="115" fill="none" stroke="#000" stroke-width="1.25"/>
<rect x="40.3" y="363.6" width="261.9" height="115.8" fill="none" stroke="#000" stroke-width="1.25"/>
<path d="M40.3 335.6h5.0M40.3 312.6h5.0M40.3 289.6h5.0M40.3 266.6h5.0" stroke="#000" stroke-width="1.2" fill="none"/>
<text transform="translate(35.2 122.05) scale(1.12 1)" font-family='"Liberation Serif","DejaVu Serif",serif' font-size="10.8" text-anchor="end" fill="#000" stroke="#000" stroke-width="0.18" >0</text>
<text transform="translate(35.2 89.25) scale(1.12 1)" font-family='"Liberation Serif","DejaVu Serif",serif' font-size="10.8" text-anchor="end" fill="#000" stroke="#000" stroke-width="0.18" >2</text>
<text transform="translate(35.2 56.45) scale(1.12 1)" font-family='"Liberation Serif","DejaVu Serif",serif' font-size="10.8" text-anchor="end" fill="#000" stroke="#000" stroke-width="0.18" >4</text>
<text transform="translate(35.2 23.65) scale(1.12 1)" font-family='"Liberation Serif","DejaVu Serif",serif' font-size="10.8" text-anchor="end" fill="#000" stroke="#000" stroke-width="0.18" >6</text>
<text transform="translate(35.2 209.74) scale(1.12 1)" font-family='"Liberation Serif","DejaVu Serif",serif' font-size="10.8" text-anchor="end" fill="#000" stroke="#000" stroke-width="0.18" >2</text>
<text transform="translate(35.2 176.82) scale(1.12 1)" font-family='"Liberation Serif","DejaVu Serif",serif' font-size="10.8" text-anchor="end" fill="#000" stroke="#000" stroke-width="0.18" >4</text>
<text transform="translate(35.2 143.91) scale(1.12 1)" font-family='"Liberation Serif","DejaVu Serif",serif' font-size="10.8" text-anchor="end" fill="#000" stroke="#000" stroke-width="0.18" >6</text>
<text transform="translate(35 360.95) scale(1.12 1)" font-family='"Liberation Serif","DejaVu Serif",serif' font-size="10.8" text-anchor="end" fill="#000" stroke="#000" stroke-width="0.18" >80</text>
<text transform="translate(35 339.85) scale(1.12 1)" font-family='"Liberation Serif","DejaVu Serif",serif' font-size="10.8" text-anchor="end" fill="#000" stroke="#000" stroke-width="0.18" >90</text>
<text transform="translate(35 316.85) scale(1.12 1)" font-family='"Liberation Serif","DejaVu Serif",serif' font-size="10.8" text-anchor="end" fill="#000" stroke="#000" stroke-width="0.18" >100</text>
<text transform="translate(35 293.85) scale(1.12 1)" font-family='"Liberation Serif","DejaVu Serif",serif' font-size="10.8" text-anchor="end" fill="#000" stroke="#000" stroke-width="0.18" >110</text>
<text transform="translate(35 270.85) scale(1.12 1)" font-family='"Liberation Serif","DejaVu Serif",serif' font-size="10.8" text-anchor="end" fill="#000" stroke="#000" stroke-width="0.18" >120</text>
<text transform="translate(35 247.85) scale(1.12 1)" font-family='"Liberation Serif","DejaVu Serif",serif' font-size="10.8" text-anchor="end" fill="#000" stroke="#000" stroke-width="0.18" >130</text>
<text transform="translate(35 483.65) scale(1.12 1)" font-family='"Liberation Serif","DejaVu Serif",serif' font-size="10.8" text-anchor="end" fill="#000" stroke="#000" stroke-width="0.18" >80</text>
<text transform="translate(35 460.49) scale(1.12 1)" font-family='"Liberation Serif","DejaVu Serif",serif' font-size="10.8" text-anchor="end" fill="#000" stroke="#000" stroke-width="0.18" >90</text>
<text transform="translate(35 437.33) scale(1.12 1)" font-family='"Liberation Serif","DejaVu Serif",serif' font-size="10.8" text-anchor="end" fill="#000" stroke="#000" stroke-width="0.18" >100</text>
<text transform="translate(35 414.17) scale(1.12 1)" font-family='"Liberation Serif","DejaVu Serif",serif' font-size="10.8" text-anchor="end" fill="#000" stroke="#000" stroke-width="0.18" >110</text>
<text transform="translate(35 391.01) scale(1.12 1)" font-family='"Liberation Serif","DejaVu Serif",serif' font-size="10.8" text-anchor="end" fill="#000" stroke="#000" stroke-width="0.18" >120</text>
<text transform="translate(35 369.95) scale(1.12 1)" font-family='"Liberation Serif","DejaVu Serif",serif' font-size="10.8" text-anchor="end" fill="#000" stroke="#000" stroke-width="0.18" >130</text>
<text transform="translate(307.5 83.78) scale(1.12 1)" font-family='"Liberation Serif","DejaVu Serif",serif' font-size="10.8" text-anchor="start" fill="#000" stroke="#000" stroke-width="0.18" >1</text>
<text transform="translate(307.5 45.52) scale(1.12 1)" font-family='"Liberation Serif","DejaVu Serif",serif' font-size="10.8" text-anchor="start" fill="#000" stroke="#000" stroke-width="0.18" >2</text>
<text transform="translate(307.5 7.25) scale(1.12 1)" font-family='"Liberation Serif","DejaVu Serif",serif' font-size="10.8" text-anchor="start" fill="#000" stroke="#000" stroke-width="0.18" >3</text>
<text transform="translate(307 242.65) scale(1.12 1)" font-family='"Liberation Serif","DejaVu Serif",serif' font-size="10.8" text-anchor="start" fill="#000" stroke="#000" stroke-width="0.18" >0.0</text>
<text transform="translate(307 219.61) scale(1.12 1)" font-family='"Liberation Serif","DejaVu Serif",serif' font-size="10.8" text-anchor="start" fill="#000" stroke="#000" stroke-width="0.18" >0.1</text>
<text transform="translate(307 196.57) scale(1.12 1)" font-family='"Liberation Serif","DejaVu Serif",serif' font-size="10.8" text-anchor="start" fill="#000" stroke="#000" stroke-width="0.18" >0.2</text>
<text transform="translate(307 173.53) scale(1.12 1)" font-family='"Liberation Serif","DejaVu Serif",serif' font-size="10.8" text-anchor="start" fill="#000" stroke="#000" stroke-width="0.18" >0.3</text>
<text transform="translate(307 150.49) scale(1.12 1)" font-family='"Liberation Serif","DejaVu Serif",serif' font-size="10.8" text-anchor="start" fill="#000" stroke="#000" stroke-width="0.18" >0.4</text>
<text transform="translate(307 127.45) scale(1.12 1)" font-family='"Liberation Serif","DejaVu Serif",serif' font-size="10.8" text-anchor="start" fill="#000" stroke="#000" stroke-width="0.18" >0.5</text>
<text transform="translate(69.4 491.8) scale(1.12 1)" font-family='"Liberation Serif","DejaVu Serif",serif' font-size="10.8" text-anchor="middle" fill="#000" stroke="#000" stroke-width="0.18" >3.9</text>
<text transform="translate(127.6 491.8) scale(1.12 1)" font-family='"Liberation Serif","DejaVu Serif",serif' font-size="10.8" text-anchor="middle" fill="#000" stroke="#000" stroke-width="0.18" >4.0</text>
<text transform="translate(185.8 491.8) scale(1.12 1)" font-family='"Liberation Serif","DejaVu Serif",serif' font-size="10.8" text-anchor="middle" fill="#000" stroke="#000" stroke-width="0.18" >4.1</text>
<text transform="translate(244 491.8) scale(1.12 1)" font-family='"Liberation Serif","DejaVu Serif",serif' font-size="10.8" text-anchor="middle" fill="#000" stroke="#000" stroke-width="0.18" >4.2</text>
<text transform="translate(302.2 491.8) scale(1.12 1)" font-family='"Liberation Serif","DejaVu Serif",serif' font-size="10.8" text-anchor="middle" fill="#000" stroke="#000" stroke-width="0.18" >4.3</text>
<text transform="translate(171.3 506.7) scale(1.2 1)" font-family='"Liberation Serif","DejaVu Serif",serif' font-size="10.8" text-anchor="middle" fill="#000" stroke="#000" stroke-width="0.18" >Time [s]</text>
<text transform="translate(21.1 61) rotate(-90) scale(1 1)" font-family='"DejaVu Sans","Liberation Sans",sans-serif' font-size="10.7" text-anchor="middle" stroke="#000" stroke-width="0.12" ><tspan font-style="italic">n</tspan><tspan font-size="7.5" dy="1.7" font-style="italic">e</tspan><tspan dy="-1.7">[10</tspan><tspan font-size="7.5" dy="-4.0">19</tspan><tspan dy="4.0">m</tspan><tspan font-size="7.5" dy="-4.0">−3</tspan><tspan dy="4.0">]</tspan></text>
<text transform="translate(21.8 180.9) rotate(-90) scale(1.165 1)" font-family='"Liberation Serif","DejaVu Serif",serif' font-size="10.8" text-anchor="middle" stroke="#000" stroke-width="0.18" >Power [MW]</text>
<text transform="translate(10.1 301.6) rotate(-90) scale(1.2 1)" font-family='"Liberation Serif","DejaVu Serif",serif' font-size="10.8" text-anchor="middle" stroke="#000" stroke-width="0.18" >F [kHz]</text>
<text transform="translate(10.1 421.6) rotate(-90) scale(1.2 1)" font-family='"Liberation Serif","DejaVu Serif",serif' font-size="10.8" text-anchor="middle" stroke="#000" stroke-width="0.18" >F [kHz]</text>
<text transform="translate(326.2 61) rotate(-90) scale(1 1)" font-family='"DejaVu Sans","Liberation Sans",sans-serif' font-size="10.7" text-anchor="middle" stroke="#000" stroke-width="0.12" ><tspan font-style="italic">T</tspan><tspan font-size="7.5" dy="1.7" font-style="italic">e</tspan><tspan dy="-1.7">[keV]</tspan></text>
<text transform="translate(335.3 181.6) rotate(-90) scale(1.185 1)" font-family='"Liberation Serif","DejaVu Serif",serif' font-size="10.8" text-anchor="middle" stroke="#000" stroke-width="0.18" >Energy [MJ]</text>
<text transform="translate(41.6 112.8) scale(1.2 1)" font-family='"Liberation Serif","DejaVu Serif",serif' font-size="10.8" text-anchor="start" fill="#000" stroke="#000" stroke-width="0.18" >(a)</text>
<text transform="translate(41.6 232.2) scale(1.2 1)" font-family='"Liberation Serif","DejaVu Serif",serif' font-size="10.8" text-anchor="start" fill="#000" stroke="#000" stroke-width="0.18" >(b)</text>
<text transform="translate(41.6 253.6) scale(1.21 1)" font-family='"Liberation Serif","DejaVu Serif",serif' font-size="10.8" text-anchor="start" fill="#fff" stroke="#fff" stroke-width="0.05" >(c) Magnetics</text>
<text transform="translate(41.6 373.4) scale(1.25 1)" font-family='"Liberation Serif","DejaVu Serif",serif' font-size="10.8" text-anchor="start" fill="#fff" stroke="#fff" stroke-width="0.05" >(d) ECE (</text>
<text transform="translate(94.6 373.4) scale(1 1)" font-family='"DejaVu Sans","Liberation Sans",sans-serif' font-size="10" text-anchor="start" fill="#fff" stroke="#fff" stroke-width="0.05" >ρ ~ 0.5</text>
<text transform="translate(131.8 373.4) scale(1.2 1)" font-family='"Liberation Serif","DejaVu Serif",serif' font-size="10.8" text-anchor="start" fill="#fff" stroke="#fff" stroke-width="0.05" >)</text>
<text transform="translate(99.8 412.4) scale(1.25 1)" font-family='"Liberation Serif","DejaVu Serif",serif' font-size="11" fill="#1c7a1c">f<tspan font-size="8.2" dy="3.4" dx="0.4">TAE</tspan><tspan dy="-3.4" dx="0.8">(n=2)</tspan></text>
<text transform="translate(218 374.8) scale(1.25 1)" font-family='"Liberation Serif","DejaVu Serif",serif' font-size="11" fill="#b8a41e">f<tspan font-size="8.2" dy="3.4" dx="0.4">TAE</tspan><tspan dy="-3.4" dx="0.8">(n=3)</tspan></text>
<rect x="44.6" y="7.4" width="153.8" height="18" rx="1.8" fill="#fff" fill-opacity="0.8" stroke="#cfcfcf" stroke-width="1.05"/>
<path d="M47.8 16.0H67.2" stroke="#00f" stroke-width="1.25"/>
<text x="74.8" y="18.7" font-family='"DejaVu Sans","Liberation Sans",sans-serif' font-size="9.2" stroke="#000" stroke-width="0.12"><tspan font-style="italic">n</tspan><tspan font-size="6.3" dy="1.5" font-style="italic">e</tspan><tspan dy="-1.5">(0.10)</tspan></text>
<path d="M129.8 16.0H149.2" stroke="#f00" stroke-width="1.25"/>
<text x="156.7" y="18.7" font-family='"DejaVu Sans","Liberation Sans",sans-serif' font-size="9.2" stroke="#000" stroke-width="0.12"><tspan font-style="italic">n</tspan><tspan font-size="6.3" dy="1.5" font-style="italic">e</tspan><tspan dy="-1.5">(0.85)</tspan></text>
<rect x="144.2" y="80.3" width="153.5" height="17.2" rx="1.8" fill="#fff" fill-opacity="0.8" stroke="#cfcfcf" stroke-width="1.05"/>
<path d="M147.8 88.2H166.4" stroke="#00f" stroke-width="1.25" stroke-dasharray="3.4 1.5"/>
<text x="173.4" y="91.0" font-family='"DejaVu Sans","Liberation Sans",sans-serif' font-size="9.2" stroke="#000" stroke-width="0.12"><tspan font-style="italic">T</tspan><tspan font-size="6.3" dy="1.5" font-style="italic">e</tspan><tspan dy="-1.5">(0.10)</tspan></text>
<path d="M230.8 88.2H248.8" stroke="#f00" stroke-width="1.25" stroke-dasharray="3.4 1.5"/>
<text x="255.8" y="91.0" font-family='"DejaVu Sans","Liberation Sans",sans-serif' font-size="9.2" stroke="#000" stroke-width="0.12"><tspan font-style="italic">T</tspan><tspan font-size="6.3" dy="1.5" font-style="italic">e</tspan><tspan dy="-1.5">(0.85)</tspan></text>
<rect x="108.4" y="127.8" width="189.5" height="16" rx="1.8" fill="#fff" fill-opacity="0.8" stroke="#cfcfcf" stroke-width="1.05"/>
<path d="M111.6 135.5H130.2" stroke="#000" stroke-width="1.25"/>
<text transform="translate(137.5 139) scale(1.2 1)" font-family='"Liberation Serif","DejaVu Serif",serif' font-size="9.6" text-anchor="start" fill="#000" stroke="#000" stroke-width="0.18" >NBI</text>
<path d="M174.8 135.5H193.6" stroke="#f00" stroke-width="1.25"/>
<text transform="translate(200.6 139) scale(1.16 1)" font-family='"Liberation Serif","DejaVu Serif",serif' font-size="9.6" text-anchor="start" fill="#000" stroke="#000" stroke-width="0.18" >ICRH</text>
<path d="M245.4 135.5H264.4" stroke="#00f" stroke-width="1.25"/>
<text transform="translate(271.6 139) scale(1.24 1)" font-family='"Liberation Serif","DejaVu Serif",serif' font-size="9.6" text-anchor="start" fill="#000" stroke="#000" stroke-width="0.18" >Prad</text>
<rect x="179.3" y="202.8" width="117.2" height="16.1" rx="1.8" fill="#fff" fill-opacity="0.8" stroke="#cfcfcf" stroke-width="1.05"/>
<path d="M183.6 210.6H201.6" stroke="#00f" stroke-width="1.25" stroke-dasharray="3.4 1.5"/>
<text x="209.3" y="213.5" font-family='"DejaVu Sans","Liberation Sans",sans-serif' font-size="9.2" stroke="#000" stroke-width="0.12"><tspan font-style="italic">W</tspan><tspan font-size="6.3" dy="1.5" font-style="italic">MHD</tspan><tspan dy="-1.5"></tspan></text>
<path d="M252.6 210.6H270.4" stroke="#f00" stroke-width="1.25" stroke-dasharray="3.4 1.5"/>
<text x="278.6" y="213.5" font-family='"DejaVu Sans","Liberation Sans",sans-serif' font-size="9.2" stroke="#000" stroke-width="0.12"><tspan font-style="italic">W</tspan><tspan font-size="6.3" dy="1.5" font-style="italic">FI</tspan><tspan dy="-1.5"></tspan></text>
</svg></body></html>
